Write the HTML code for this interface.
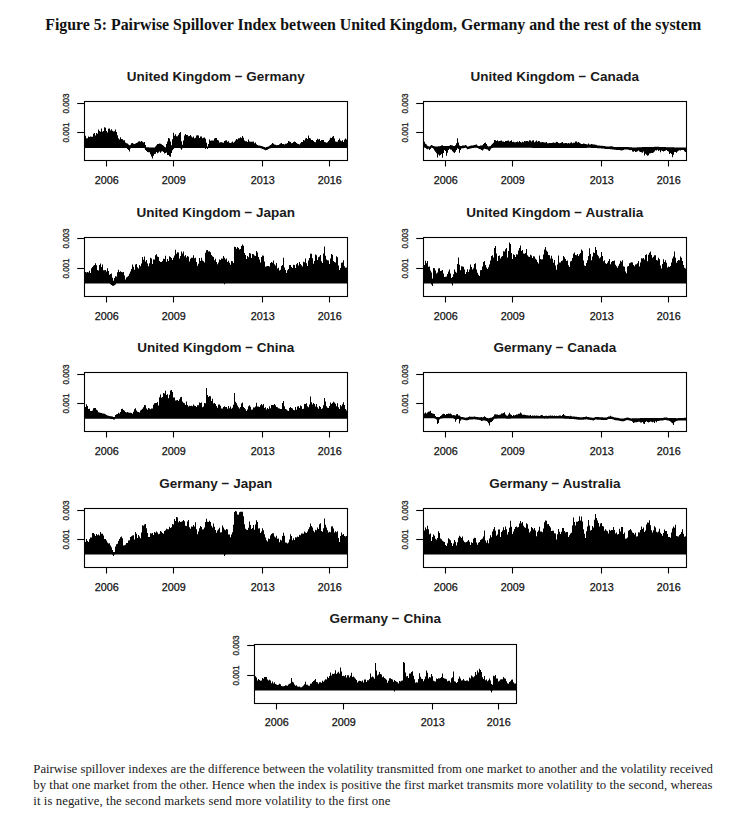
<!DOCTYPE html>
<html><head><meta charset="utf-8"><style>
html,body{margin:0;padding:0;background:#fff;}
body{width:747px;height:819px;overflow:hidden;position:relative;}
svg{position:absolute;left:0;top:0;}
.pt{font-family:"Liberation Sans",sans-serif;font-weight:bold;font-size:13.5px;fill:#1a1a1a;}
.xl{font-family:"Liberation Sans",sans-serif;font-size:10.8px;fill:#111;stroke:#111;stroke-width:0.25px;}
.yl{font-family:"Liberation Sans",sans-serif;font-size:9.4px;fill:#222;stroke:#222;stroke-width:0.3px;}
.bx{fill:none;stroke:#000;stroke-width:1.1;}
.tk{stroke:#000;stroke-width:1.1;}
.dt{fill:#000;}
.cap{position:absolute;left:34px;font-family:"Liberation Serif",serif;font-size:12.7px;color:#1a1a1a;white-space:nowrap;}
.ttl{position:absolute;left:45px;top:0;font-family:"Liberation Serif",serif;font-weight:bold;font-size:15.8px;color:#111;white-space:nowrap;}
</style></head><body>
<svg width="747" height="819" viewBox="0 0 747 819">
<text x="45.2" y="29.9" style="font-family:'Liberation Serif',serif;font-weight:bold;font-size:15.87px;fill:#111;">Figure 5: Pairwise Spillover Index between United Kingdom, Germany and the rest of the system</text>
<text x="215.8" y="81.3" class="pt" text-anchor="middle">United Kingdom − Germany</text>
<path d="M85,135.7 86,135.7 86,138.3 87,138.3 87,138.2 88,138.2 88,136.4 89,136.4 89,136.9 90,136.9 90,136.5 91,136.5 91,136.8 92,136.8 92,136.8 93,136.8 93,133.7 94,133.7 94,132.9 95,132.9 95,135.5 96,135.5 96,133.0 97,133.0 97,133.8 98,133.8 98,129.4 99,129.4 99,130.9 100,130.9 100,131.7 101,131.7 101,128.5 102,128.5 102,131.7 103,131.7 103,131.1 104,131.1 104,127.3 105,127.3 105,127.7 106,127.7 106,130.9 107,130.9 107,132.6 108,132.6 108,128.8 109,128.8 109,128.6 110,128.6 110,130.4 111,130.4 111,129.2 112,129.2 112,130.7 113,130.7 113,131.4 114,131.4 114,131.3 115,131.3 115,129.5 116,129.5 116,131.9 117,131.9 117,135.3 118,135.3 118,138.2 119,138.2 119,139.5 120,139.5 120,137.3 121,137.3 121,138.9 122,138.9 122,139.2 123,139.2 123,140.3 124,140.3 124,140.2 125,140.2 125,142.6 126,142.6 126,143.3 127,143.3 127,143.4 128,143.4 128,144.5 129,144.5 129,145.2 130,145.2 130,144.7 131,144.7 131,143.3 132,143.3 132,142.9 133,142.9 133,143.7 134,143.7 134,143.9 135,143.9 135,143.6 136,143.6 136,143.0 137,143.0 137,142.6 138,142.6 138,141.6 139,141.6 139,141.2 140,141.2 140,141.7 141,141.7 141,141.1 142,141.1 142,141.7 143,141.7 143,142.6 144,142.6 144,142.0 145,142.0 145,144.9 146,144.9 146,147.2 147,147.2 147,147.2 148,147.2 148,147.3 149,147.3 149,147.4 150,147.4 150,147.4 151,147.4 151,147.5 152,147.5 152,147.5 153,147.5 153,147.5 154,147.5 154,147.5 155,147.5 155,146.5 156,146.5 156,145.3 157,145.3 157,143.9 158,143.9 158,144.1 159,144.1 159,143.6 160,143.6 160,143.8 161,143.8 161,144.2 162,144.2 162,145.0 163,145.0 163,145.7 164,145.7 164,146.7 165,146.7 165,147.2 166,147.2 166,144.0 167,144.0 167,141.4 168,141.4 168,137.9 169,137.9 169,138.4 170,138.4 170,141.5 171,141.5 171,145.3 172,145.3 172,139.3 173,139.3 173,132.8 174,132.8 174,135.7 175,135.7 175,134.2 176,134.2 176,136.2 177,136.2 177,136.3 178,136.3 178,134.7 179,134.7 179,133.0 180,133.0 180,131.9 181,131.9 181,141.3 182,141.3 182,144.7 183,144.7 183,140.4 184,140.4 184,135.5 185,135.5 185,134.0 186,134.0 186,134.9 187,134.9 187,134.9 188,134.9 188,136.3 189,136.3 189,136.0 190,136.0 190,135.1 191,135.1 191,136.5 192,136.5 192,137.4 193,137.4 193,136.6 194,136.6 194,138.3 195,138.3 195,137.7 196,137.7 196,135.6 197,135.6 197,135.3 198,135.3 198,135.5 199,135.5 199,138.0 200,138.0 200,136.6 201,136.6 201,136.4 202,136.4 202,138.2 203,138.2 203,137.7 204,137.7 204,137.4 205,137.4 205,138.8 206,138.8 206,142.7 207,142.7 207,146.5 208,146.5 208,144.1 209,144.1 209,139.5 210,139.5 210,140.8 211,140.8 211,140.5 212,140.5 212,140.5 213,140.5 213,140.4 214,140.4 214,138.4 215,138.4 215,137.9 216,137.9 216,138.0 217,138.0 217,139.9 218,139.9 218,140.6 219,140.6 219,142.5 220,142.5 220,142.3 221,142.3 221,142.2 222,142.2 222,142.6 223,142.6 223,142.7 224,142.7 224,141.1 225,141.1 225,140.6 226,140.6 226,140.2 227,140.2 227,141.8 228,141.8 228,141.3 229,141.3 229,142.7 230,142.7 230,142.9 231,142.9 231,142.4 232,142.4 232,141.6 233,141.6 233,142.7 234,142.7 234,141.8 235,141.8 235,140.5 236,140.5 236,139.0 237,139.0 237,139.4 238,139.4 238,138.3 239,138.3 239,138.3 240,138.3 240,137.3 241,137.3 241,138.0 242,138.0 242,136.0 243,136.0 243,137.8 244,137.8 244,140.6 245,140.6 245,141.2 246,141.2 246,141.2 247,141.2 247,141.9 248,141.9 248,139.6 249,139.6 249,141.5 250,141.5 250,141.7 251,141.7 251,141.7 252,141.7 252,141.7 253,141.7 253,141.6 254,141.6 254,143.2 255,143.2 255,142.6 256,142.6 256,144.2 257,144.2 257,145.0 258,145.0 258,145.4 259,145.4 259,145.5 260,145.5 260,145.7 261,145.7 261,146.0 262,146.0 262,146.3 263,146.3 263,146.7 264,146.7 264,147.1 265,147.1 265,147.5 266,147.5 266,147.1 267,147.1 267,146.8 268,146.8 268,146.4 269,146.4 269,145.7 270,145.7 270,145.0 271,145.0 271,144.3 272,144.3 272,143.0 273,143.0 273,143.7 274,143.7 274,144.4 275,144.4 275,144.7 276,144.7 276,145.3 277,145.3 277,144.9 278,144.9 278,144.9 279,144.9 279,144.3 280,144.3 280,143.6 281,143.6 281,143.1 282,143.1 282,144.0 283,144.0 283,143.9 284,143.9 284,144.4 285,144.4 285,143.8 286,143.8 286,143.7 287,143.7 287,143.1 288,143.1 288,141.0 289,141.0 289,141.6 290,141.6 290,142.1 291,142.1 291,143.3 292,143.3 292,143.0 293,143.0 293,142.1 294,142.1 294,141.6 295,141.6 295,142.1 296,142.1 296,143.0 297,143.0 297,143.8 298,143.8 298,143.9 299,143.9 299,144.6 300,144.6 300,143.3 301,143.3 301,142.0 302,142.0 302,142.0 303,142.0 303,139.9 304,139.9 304,140.5 305,140.5 305,138.4 306,138.4 306,137.9 307,137.9 307,139.0 308,139.0 308,135.5 309,135.5 309,138.1 310,138.1 310,138.5 311,138.5 311,140.1 312,140.1 312,139.9 313,139.9 313,140.9 314,140.9 314,142.1 315,142.1 315,142.3 316,142.3 316,139.9 317,139.9 317,138.8 318,138.8 318,139.6 319,139.6 319,139.1 320,139.1 320,141.0 321,141.0 321,140.1 322,140.1 322,140.0 323,140.0 323,140.1 324,140.1 324,142.0 325,142.0 325,142.3 326,142.3 326,142.8 327,142.8 327,142.3 328,142.3 328,141.0 329,141.0 329,139.8 330,139.8 330,137.8 331,137.8 331,138.1 332,138.1 332,136.8 333,136.8 333,136.1 334,136.1 334,138.4 335,138.4 335,141.5 336,141.5 336,141.8 337,141.8 337,141.7 338,141.7 338,140.0 339,140.0 339,138.6 340,138.6 340,140.4 341,140.4 341,141.2 342,141.2 342,140.3 343,140.3 343,142.0 344,142.0 344,139.7 345,139.7 345,138.6 346,138.6 346,139.4 347,139.4 347,148.0 346,148.0 346,148.0 345,148.0 345,148.0 344,148.0 344,148.0 343,148.0 343,148.0 342,148.0 342,148.0 341,148.0 341,148.0 340,148.0 340,148.0 339,148.0 339,148.0 338,148.0 338,148.0 337,148.0 337,148.0 336,148.0 336,148.0 335,148.0 335,148.0 334,148.0 334,148.0 333,148.0 333,148.0 332,148.0 332,148.0 331,148.0 331,148.0 330,148.0 330,148.0 329,148.0 329,148.0 328,148.0 328,148.0 327,148.0 327,148.0 326,148.0 326,148.0 325,148.0 325,148.0 324,148.0 324,148.0 323,148.0 323,148.0 322,148.0 322,148.0 321,148.0 321,148.0 320,148.0 320,148.0 319,148.0 319,148.0 318,148.0 318,148.0 317,148.0 317,148.0 316,148.0 316,148.0 315,148.0 315,148.0 314,148.0 314,148.0 313,148.0 313,148.0 312,148.0 312,148.0 311,148.0 311,148.0 310,148.0 310,148.0 309,148.0 309,148.0 308,148.0 308,148.0 307,148.0 307,148.0 306,148.0 306,148.0 305,148.0 305,148.0 304,148.0 304,148.0 303,148.0 303,148.0 302,148.0 302,148.0 301,148.0 301,148.0 300,148.0 300,148.0 299,148.0 299,148.0 298,148.0 298,148.0 297,148.0 297,148.0 296,148.0 296,148.0 295,148.0 295,148.0 294,148.0 294,148.0 293,148.0 293,148.0 292,148.0 292,148.0 291,148.0 291,148.0 290,148.0 290,148.0 289,148.0 289,148.0 288,148.0 288,148.0 287,148.0 287,148.0 286,148.0 286,148.0 285,148.0 285,148.0 284,148.0 284,148.0 283,148.0 283,148.0 282,148.0 282,148.0 281,148.0 281,148.0 280,148.0 280,148.0 279,148.0 279,148.0 278,148.0 278,148.0 277,148.0 277,148.0 276,148.0 276,148.0 275,148.0 275,148.0 274,148.0 274,148.0 273,148.0 273,148.0 272,148.0 272,148.1 271,148.1 271,148.3 270,148.3 270,148.4 269,148.4 269,149.0 268,149.0 268,149.7 267,149.7 267,150.1 266,150.1 266,150.3 265,150.3 265,149.7 264,149.7 264,149.3 263,149.3 263,148.9 262,148.9 262,148.6 261,148.6 261,148.3 260,148.3 260,148.1 259,148.1 259,148.0 258,148.0 258,148.0 257,148.0 257,148.0 256,148.0 256,148.0 255,148.0 255,148.0 254,148.0 254,148.0 253,148.0 253,148.0 252,148.0 252,148.0 251,148.0 251,148.0 250,148.0 250,148.0 249,148.0 249,148.0 248,148.0 248,148.0 247,148.0 247,148.0 246,148.0 246,148.0 245,148.0 245,148.0 244,148.0 244,148.0 243,148.0 243,148.0 242,148.0 242,148.0 241,148.0 241,148.0 240,148.0 240,148.0 239,148.0 239,148.0 238,148.0 238,148.0 237,148.0 237,148.0 236,148.0 236,148.0 235,148.0 235,148.0 234,148.0 234,148.0 233,148.0 233,148.0 232,148.0 232,148.0 231,148.0 231,148.0 230,148.0 230,148.0 229,148.0 229,148.0 228,148.0 228,148.0 227,148.0 227,148.0 226,148.0 226,148.0 225,148.0 225,148.0 224,148.0 224,148.0 223,148.0 223,148.0 222,148.0 222,148.0 221,148.0 221,148.0 220,148.0 220,148.0 219,148.0 219,148.0 218,148.0 218,148.0 217,148.0 217,148.0 216,148.0 216,148.0 215,148.0 215,148.0 214,148.0 214,148.0 213,148.0 213,148.0 212,148.0 212,148.0 211,148.0 211,148.0 210,148.0 210,148.0 209,148.0 209,148.0 208,148.0 208,149.1 207,149.1 207,148.1 206,148.1 206,148.9 205,148.9 205,148.0 204,148.0 204,148.0 203,148.0 203,148.0 202,148.0 202,148.0 201,148.0 201,148.0 200,148.0 200,148.0 199,148.0 199,148.0 198,148.0 198,148.0 197,148.0 197,148.0 196,148.0 196,148.0 195,148.0 195,148.0 194,148.0 194,148.0 193,148.0 193,148.0 192,148.0 192,148.0 191,148.0 191,148.0 190,148.0 190,148.0 189,148.0 189,148.0 188,148.0 188,148.0 187,148.0 187,148.0 186,148.0 186,148.0 185,148.0 185,148.0 184,148.0 184,148.0 183,148.0 183,148.2 182,148.2 182,149.8 181,149.8 181,148.2 180,148.2 180,148.0 179,148.0 179,148.0 178,148.0 178,148.0 177,148.0 177,148.0 176,148.0 176,148.0 175,148.0 175,148.0 174,148.0 174,148.9 173,148.9 173,150.3 172,150.3 172,153.1 171,153.1 171,156.7 170,156.7 170,156.2 169,156.2 169,155.1 168,155.1 168,154.9 167,154.9 167,152.5 166,152.5 166,153.0 165,153.0 165,153.5 164,153.5 164,152.1 163,152.1 163,151.2 162,151.2 162,151.6 161,151.6 161,152.8 160,152.8 160,151.4 159,151.4 159,152.5 158,152.5 158,153.3 157,153.3 157,152.0 156,152.0 156,153.7 155,153.7 155,154.1 154,154.1 154,155.7 153,155.7 153,158.5 152,158.5 152,156.4 151,156.4 151,154.3 150,154.3 150,152.3 149,152.3 149,152.3 148,152.3 148,151.9 147,151.9 147,151.0 146,151.0 146,150.1 145,150.1 145,148.3 144,148.3 144,148.0 143,148.0 143,148.0 142,148.0 142,148.0 141,148.0 141,148.0 140,148.0 140,148.0 139,148.0 139,148.0 138,148.0 138,148.0 137,148.0 137,148.0 136,148.0 136,148.0 135,148.0 135,148.0 134,148.0 134,148.0 133,148.0 133,148.0 132,148.0 132,148.0 131,148.0 131,148.4 130,148.4 130,151.4 129,151.4 129,150.0 128,150.0 128,149.1 127,149.1 127,148.0 126,148.0 126,148.0 125,148.0 125,148.0 124,148.0 124,148.0 123,148.0 123,148.0 122,148.0 122,148.0 121,148.0 121,148.0 120,148.0 120,148.0 119,148.0 119,148.0 118,148.0 118,148.0 117,148.0 117,148.0 116,148.0 116,148.0 115,148.0 115,148.0 114,148.0 114,148.0 113,148.0 113,148.0 112,148.0 112,148.0 111,148.0 111,148.0 110,148.0 110,148.0 109,148.0 109,148.0 108,148.0 108,148.0 107,148.0 107,148.0 106,148.0 106,148.0 105,148.0 105,148.0 104,148.0 104,148.0 103,148.0 103,148.0 102,148.0 102,148.0 101,148.0 101,148.0 100,148.0 100,148.0 99,148.0 99,148.0 98,148.0 98,148.0 97,148.0 97,148.0 96,148.0 96,148.0 95,148.0 95,148.0 94,148.0 94,148.0 93,148.0 93,148.0 92,148.0 92,148.0 91,148.0 91,148.0 90,148.0 90,148.0 89,148.0 89,148.0 88,148.0 88,148.0 87,148.0 87,148.0 86,148.0 86,148.0 85,148.0Z" class="dt"/>
<rect x="84.5" y="101.5" width="263" height="59" class="bx"/>
<line x1="106.5" y1="160.5" x2="106.5" y2="166.5" class="tk"/>
<text x="106.7" y="184.0" class="xl" text-anchor="middle">2006</text>
<line x1="173.5" y1="160.5" x2="173.5" y2="166.5" class="tk"/>
<text x="173.7" y="184.0" class="xl" text-anchor="middle">2009</text>
<line x1="262.5" y1="160.5" x2="262.5" y2="166.5" class="tk"/>
<text x="262.7" y="184.0" class="xl" text-anchor="middle">2013</text>
<line x1="329.5" y1="160.5" x2="329.5" y2="166.5" class="tk"/>
<text x="329.7" y="184.0" class="xl" text-anchor="middle">2016</text>
<line x1="77.2" y1="103.5" x2="84.5" y2="103.5" class="tk"/>
<text transform="translate(69.2,103.5) rotate(-90) scale(0.86,1)" x="0" y="0" class="yl" text-anchor="middle">0.003</text>
<line x1="77.2" y1="132.5" x2="84.5" y2="132.5" class="tk"/>
<text transform="translate(69.2,132.5) rotate(-90) scale(0.86,1)" x="0" y="0" class="yl" text-anchor="middle">0.001</text>
<text x="554.8" y="81.3" class="pt" text-anchor="middle">United Kingdom − Canada</text>
<path d="M424,141.7 425,141.7 425,143.7 426,143.7 426,144.6 427,144.6 427,145.7 428,145.7 428,146.2 429,146.2 429,146.6 430,146.6 430,145.8 431,145.8 431,145.0 432,145.0 432,145.4 433,145.4 433,146.0 434,146.0 434,146.2 435,146.2 435,146.4 436,146.4 436,146.6 437,146.6 437,146.5 438,146.5 438,146.3 439,146.3 439,146.2 440,146.2 440,145.9 441,145.9 441,145.4 442,145.4 442,145.2 443,145.2 443,146.1 444,146.1 444,146.1 445,146.1 445,146.1 446,146.1 446,146.1 447,146.1 447,146.1 448,146.1 448,146.1 449,146.1 449,145.7 450,145.7 450,145.0 451,145.0 451,145.2 452,145.2 452,145.5 453,145.5 453,145.9 454,145.9 454,146.0 455,146.0 455,145.3 456,145.3 456,143.3 457,143.3 457,138.2 458,138.2 458,142.5 459,142.5 459,145.4 460,145.4 460,146.1 461,146.1 461,145.9 462,145.9 462,145.6 463,145.6 463,145.6 464,145.6 464,145.4 465,145.4 465,145.1 466,145.1 466,145.5 467,145.5 467,146.4 468,146.4 468,146.4 469,146.4 469,146.1 470,146.1 470,145.8 471,145.8 471,145.6 472,145.6 472,145.5 473,145.5 473,145.3 474,145.3 474,145.0 475,145.0 475,144.8 476,144.8 476,144.5 477,144.5 477,145.4 478,145.4 478,146.0 479,146.0 479,145.9 480,145.9 480,145.6 481,145.6 481,145.4 482,145.4 482,145.2 483,145.2 483,143.9 484,143.9 484,142.9 485,142.9 485,142.5 486,142.5 486,144.0 487,144.0 487,145.8 488,145.8 488,146.6 489,146.6 489,146.3 490,146.3 490,146.0 491,146.0 491,144.8 492,144.8 492,143.7 493,143.7 493,142.7 494,142.7 494,140.0 495,140.0 495,140.3 496,140.3 496,141.1 497,141.1 497,140.3 498,140.3 498,141.3 499,141.3 499,140.9 500,140.9 500,140.8 501,140.8 501,140.4 502,140.4 502,141.4 503,141.4 503,141.4 504,141.4 504,141.9 505,141.9 505,141.0 506,141.0 506,141.0 507,141.0 507,140.8 508,140.8 508,140.6 509,140.6 509,141.5 510,141.5 510,141.1 511,141.1 511,140.3 512,140.3 512,142.0 513,142.0 513,141.7 514,141.7 514,142.3 515,142.3 515,142.3 516,142.3 516,142.0 517,142.0 517,141.6 518,141.6 518,142.3 519,142.3 519,140.9 520,140.9 520,142.0 521,142.0 521,142.5 522,142.5 522,141.7 523,141.7 523,142.2 524,142.2 524,141.0 525,141.0 525,141.3 526,141.3 526,140.9 527,140.9 527,141.0 528,141.0 528,141.4 529,141.4 529,140.2 530,140.2 530,140.6 531,140.6 531,141.6 532,141.6 532,140.5 533,140.5 533,140.3 534,140.3 534,142.2 535,142.2 535,141.4 536,141.4 536,140.6 537,140.6 537,141.7 538,141.7 538,141.1 539,141.1 539,141.2 540,141.2 540,142.3 541,142.3 541,142.2 542,142.2 542,142.0 543,142.0 543,142.2 544,142.2 544,142.5 545,142.5 545,142.4 546,142.4 546,142.1 547,142.1 547,143.2 548,143.2 548,143.3 549,143.3 549,143.0 550,143.0 550,143.1 551,143.1 551,143.1 552,143.1 552,142.7 553,142.7 553,142.4 554,142.4 554,142.8 555,142.8 555,142.8 556,142.8 556,141.8 557,141.8 557,141.9 558,141.9 558,142.9 559,142.9 559,143.3 560,143.3 560,143.0 561,143.0 561,142.4 562,142.4 562,142.1 563,142.1 563,143.2 564,143.2 564,143.3 565,143.3 565,143.1 566,143.1 566,143.1 567,143.1 567,143.5 568,143.5 568,142.9 569,142.9 569,143.5 570,143.5 570,142.7 571,142.7 571,142.3 572,142.3 572,143.2 573,143.2 573,142.7 574,142.7 574,142.7 575,142.7 575,141.4 576,141.4 576,141.5 577,141.5 577,142.4 578,142.4 578,141.9 579,141.9 579,142.7 580,142.7 580,143.4 581,143.4 581,144.1 582,144.1 582,143.9 583,143.9 583,143.6 584,143.6 584,143.7 585,143.7 585,143.9 586,143.9 586,144.2 587,144.2 587,144.5 588,144.5 588,143.6 589,143.6 589,144.6 590,144.6 590,144.6 591,144.6 591,144.0 592,144.0 592,144.3 593,144.3 593,144.5 594,144.5 594,144.6 595,144.6 595,144.8 596,144.8 596,145.0 597,145.0 597,145.4 598,145.4 598,145.5 599,145.5 599,145.6 600,145.6 600,145.7 601,145.7 601,145.8 602,145.8 602,145.8 603,145.8 603,146.0 604,146.0 604,146.1 605,146.1 605,146.3 606,146.3 606,146.4 607,146.4 607,146.4 608,146.4 608,146.4 609,146.4 609,146.4 610,146.4 610,146.3 611,146.3 611,146.2 612,146.2 612,146.5 613,146.5 613,146.7 614,146.7 614,147.0 615,147.0 615,147.1 616,147.1 616,147.1 617,147.1 617,147.1 618,147.1 618,147.1 619,147.1 619,147.1 620,147.1 620,147.1 621,147.1 621,147.1 622,147.1 622,147.1 623,147.1 623,147.1 624,147.1 624,147.0 625,147.0 625,146.9 626,146.9 626,146.9 627,146.9 627,147.0 628,147.0 628,147.1 629,147.1 629,147.3 630,147.3 630,147.3 631,147.3 631,147.3 632,147.3 632,147.4 633,147.4 633,147.4 634,147.4 634,147.5 635,147.5 635,147.4 636,147.4 636,147.4 637,147.4 637,147.3 638,147.3 638,147.3 639,147.3 639,147.3 640,147.3 640,147.2 641,147.2 641,147.2 642,147.2 642,147.1 643,147.1 643,147.1 644,147.1 644,147.1 645,147.1 645,147.1 646,147.1 646,147.0 647,147.0 647,147.0 648,147.0 648,147.0 649,147.0 649,147.0 650,147.0 650,146.9 651,146.9 651,146.9 652,146.9 652,146.9 653,146.9 653,146.9 654,146.9 654,146.8 655,146.8 655,146.8 656,146.8 656,146.8 657,146.8 657,146.8 658,146.8 658,146.8 659,146.8 659,146.9 660,146.9 660,146.9 661,146.9 661,147.0 662,147.0 662,147.0 663,147.0 663,147.1 664,147.1 664,147.1 665,147.1 665,147.1 666,147.1 666,147.2 667,147.2 667,147.2 668,147.2 668,147.2 669,147.2 669,147.2 670,147.2 670,147.3 671,147.3 671,147.3 672,147.3 672,147.3 673,147.3 673,147.3 674,147.3 674,147.4 675,147.4 675,147.4 676,147.4 676,147.4 677,147.4 677,147.4 678,147.4 678,147.5 679,147.5 679,147.5 680,147.5 680,147.5 681,147.5 681,147.5 682,147.5 682,147.4 683,147.4 683,147.5 684,147.5 684,147.5 685,147.5 685,147.5 686,147.5 686,152.1 685,152.1 685,151.3 684,151.3 684,150.1 683,150.1 683,150.0 682,150.0 682,150.1 681,150.1 681,150.6 680,150.6 680,150.3 679,150.3 679,150.7 678,150.7 678,151.5 677,151.5 677,152.7 676,152.7 676,152.1 675,152.1 675,152.1 674,152.1 674,154.7 673,154.7 673,157.2 672,157.2 672,154.0 671,154.0 671,152.9 670,152.9 670,153.9 669,153.9 669,151.6 668,151.6 668,151.0 667,151.0 667,150.1 666,150.1 666,150.6 665,150.6 665,151.0 664,151.0 664,151.4 663,151.4 663,151.0 662,151.0 662,150.6 661,150.6 661,152.2 660,152.2 660,150.3 659,150.3 659,150.9 658,150.9 658,149.8 657,149.8 657,150.6 656,150.6 656,150.2 655,150.2 655,151.6 654,151.6 654,152.5 653,152.5 653,153.0 652,153.0 652,152.9 651,152.9 651,153.3 650,153.3 650,153.6 649,153.6 649,155.2 648,155.2 648,155.7 647,155.7 647,154.8 646,154.8 646,153.7 645,153.7 645,155.4 644,155.4 644,151.5 643,151.5 643,152.7 642,152.7 642,152.2 641,152.2 641,151.9 640,151.9 640,151.4 639,151.4 639,150.4 638,150.4 638,151.3 637,151.3 637,151.8 636,151.8 636,152.0 635,152.0 635,151.1 634,151.1 634,151.8 633,151.8 633,151.4 632,151.4 632,149.9 631,149.9 631,150.2 630,150.2 630,149.9 629,149.9 629,149.7 628,149.7 628,149.6 627,149.6 627,149.5 626,149.5 626,149.5 625,149.5 625,149.6 624,149.6 624,149.9 623,149.9 623,150.2 622,150.2 622,150.5 621,150.5 621,150.2 620,150.2 620,150.1 619,150.1 619,150.0 618,150.0 618,149.9 617,149.9 617,149.9 616,149.9 616,149.8 615,149.8 615,149.7 614,149.7 614,149.6 613,149.6 613,149.4 612,149.4 612,149.3 611,149.3 611,149.2 610,149.2 610,149.1 609,149.1 609,149.0 608,149.0 608,149.0 607,149.0 607,149.0 606,149.0 606,148.9 605,148.9 605,148.7 604,148.7 604,148.6 603,148.6 603,148.4 602,148.4 602,148.4 601,148.4 601,148.3 600,148.3 600,148.3 599,148.3 599,148.2 598,148.2 598,148.2 597,148.2 597,148.1 596,148.1 596,148.1 595,148.1 595,148.0 594,148.0 594,148.0 593,148.0 593,147.9 592,147.9 592,147.9 591,147.9 591,147.8 590,147.8 590,147.8 589,147.8 589,147.8 588,147.8 588,147.8 587,147.8 587,147.9 586,147.9 586,147.9 585,147.9 585,147.9 584,147.9 584,147.9 583,147.9 583,147.9 582,147.9 582,147.9 581,147.9 581,147.9 580,147.9 580,147.9 579,147.9 579,147.9 578,147.9 578,147.9 577,147.9 577,148.0 576,148.0 576,148.0 575,148.0 575,148.0 574,148.0 574,148.0 573,148.0 573,148.0 572,148.0 572,148.0 571,148.0 571,148.0 570,148.0 570,148.0 569,148.0 569,148.0 568,148.0 568,148.0 567,148.0 567,148.0 566,148.0 566,148.0 565,148.0 565,148.0 564,148.0 564,148.0 563,148.0 563,148.0 562,148.0 562,148.0 561,148.0 561,148.0 560,148.0 560,148.0 559,148.0 559,148.0 558,148.0 558,148.0 557,148.0 557,148.0 556,148.0 556,148.0 555,148.0 555,148.0 554,148.0 554,148.0 553,148.0 553,148.0 552,148.0 552,148.0 551,148.0 551,148.0 550,148.0 550,148.0 549,148.0 549,148.0 548,148.0 548,147.9 547,147.9 547,147.9 546,147.9 546,147.9 545,147.9 545,147.9 544,147.9 544,147.9 543,147.9 543,147.9 542,147.9 542,147.9 541,147.9 541,147.9 540,147.9 540,147.9 539,147.9 539,147.9 538,147.9 538,147.9 537,147.9 537,147.9 536,147.9 536,147.9 535,147.9 535,147.9 534,147.9 534,147.9 533,147.9 533,147.9 532,147.9 532,147.8 531,147.8 531,147.8 530,147.8 530,147.8 529,147.8 529,147.8 528,147.8 528,147.8 527,147.8 527,147.8 526,147.8 526,147.8 525,147.8 525,147.8 524,147.8 524,147.8 523,147.8 523,147.8 522,147.8 522,147.8 521,147.8 521,147.8 520,147.8 520,147.8 519,147.8 519,147.8 518,147.8 518,147.8 517,147.8 517,147.8 516,147.8 516,147.7 515,147.7 515,147.7 514,147.7 514,147.7 513,147.7 513,147.7 512,147.7 512,147.7 511,147.7 511,147.7 510,147.7 510,147.7 509,147.7 509,147.7 508,147.7 508,147.7 507,147.7 507,147.7 506,147.7 506,147.7 505,147.7 505,147.7 504,147.7 504,147.7 503,147.7 503,147.7 502,147.7 502,147.7 501,147.7 501,147.7 500,147.7 500,147.7 499,147.7 499,147.7 498,147.7 498,147.7 497,147.7 497,147.7 496,147.7 496,147.7 495,147.7 495,147.7 494,147.7 494,147.7 493,147.7 493,148.0 492,148.0 492,148.3 491,148.3 491,149.5 490,149.5 490,151.1 489,151.1 489,150.5 488,150.5 488,149.5 487,149.5 487,149.2 486,149.2 486,149.0 485,149.0 485,148.8 484,148.8 484,149.5 483,149.5 483,150.6 482,150.6 482,149.9 481,149.9 481,149.2 480,149.2 480,148.9 479,148.9 479,148.6 478,148.6 478,148.1 477,148.1 477,147.7 476,147.7 476,147.7 475,147.7 475,147.8 474,147.8 474,147.9 473,147.9 473,148.1 472,148.1 472,148.2 471,148.2 471,148.4 470,148.4 470,148.7 469,148.7 469,149.0 468,149.0 468,149.3 467,149.3 467,148.2 466,148.2 466,147.7 465,147.7 465,148.0 464,148.0 464,148.2 463,148.2 463,148.2 462,148.2 462,148.5 461,148.5 461,150.0 460,150.0 460,152.8 459,152.8 459,149.0 458,149.0 458,148.3 457,148.3 457,150.1 456,150.1 456,151.8 455,151.8 455,152.9 454,152.9 454,152.3 453,152.3 453,151.2 452,151.2 452,149.8 451,149.8 451,149.6 450,149.6 450,148.8 449,148.8 449,150.0 448,150.0 448,152.8 447,152.8 447,155.7 446,155.7 446,151.1 445,151.1 445,149.9 444,149.9 444,153.1 443,153.1 443,157.7 442,157.7 442,153.9 441,153.9 441,155.0 440,155.0 440,155.8 439,155.8 439,154.4 438,154.4 438,157.4 437,157.4 437,153.3 436,153.3 436,151.8 435,151.8 435,150.4 434,150.4 434,148.7 433,148.7 433,148.0 432,148.0 432,147.7 431,147.7 431,149.0 430,149.0 430,149.9 429,149.9 429,148.8 428,148.8 428,149.3 427,149.3 427,148.7 426,148.7 426,147.9 425,147.9 425,147.5 424,147.5Z" class="dt"/>
<rect x="423.5" y="101.5" width="263" height="59" class="bx"/>
<line x1="445.5" y1="160.5" x2="445.5" y2="166.5" class="tk"/>
<text x="445.7" y="184.0" class="xl" text-anchor="middle">2006</text>
<line x1="512.5" y1="160.5" x2="512.5" y2="166.5" class="tk"/>
<text x="512.7" y="184.0" class="xl" text-anchor="middle">2009</text>
<line x1="601.5" y1="160.5" x2="601.5" y2="166.5" class="tk"/>
<text x="601.7" y="184.0" class="xl" text-anchor="middle">2013</text>
<line x1="668.5" y1="160.5" x2="668.5" y2="166.5" class="tk"/>
<text x="668.7" y="184.0" class="xl" text-anchor="middle">2016</text>
<line x1="416.2" y1="103.5" x2="423.5" y2="103.5" class="tk"/>
<text transform="translate(408.2,103.5) rotate(-90) scale(0.86,1)" x="0" y="0" class="yl" text-anchor="middle">0.003</text>
<line x1="416.2" y1="132.5" x2="423.5" y2="132.5" class="tk"/>
<text transform="translate(408.2,132.5) rotate(-90) scale(0.86,1)" x="0" y="0" class="yl" text-anchor="middle">0.001</text>
<text x="215.8" y="217.3" class="pt" text-anchor="middle">United Kingdom − Japan</text>
<path d="M85,271.9 86,271.9 86,272.4 87,272.4 87,271.9 88,271.9 88,272.6 89,272.6 89,270.8 90,270.8 90,273.1 91,273.1 91,268.2 92,268.2 92,267.0 93,267.0 93,265.7 94,265.7 94,265.1 95,265.1 95,263.2 96,263.2 96,265.3 97,265.3 97,270.0 98,270.0 98,270.6 99,270.6 99,265.1 100,265.1 100,263.5 101,263.5 101,266.9 102,266.9 102,264.4 103,264.4 103,270.2 104,270.2 104,270.3 105,270.3 105,270.0 106,270.0 106,271.6 107,271.6 107,268.2 108,268.2 108,271.0 109,271.0 109,274.7 110,274.7 110,274.0 111,274.0 111,273.5 112,273.5 112,277.7 113,277.7 113,280.7 114,280.7 114,278.1 115,278.1 115,276.3 116,276.3 116,276.6 117,276.6 117,272.3 118,272.3 118,269.8 119,269.8 119,271.9 120,271.9 120,271.2 121,271.2 121,272.1 122,272.1 122,272.3 123,272.3 123,271.9 124,271.9 124,275.5 125,275.5 125,279.5 126,279.5 126,277.6 127,277.6 127,276.8 128,276.8 128,275.8 129,275.8 129,273.8 130,273.8 130,271.4 131,271.4 131,268.9 132,268.9 132,264.5 133,264.5 133,266.8 134,266.8 134,269.8 135,269.8 135,264.6 136,264.6 136,263.9 137,263.9 137,267.3 138,267.3 138,268.5 139,268.5 139,265.1 140,265.1 140,266.2 141,266.2 141,263.4 142,263.4 142,256.9 143,256.9 143,259.7 144,259.7 144,256.5 145,256.5 145,261.5 146,261.5 146,260.1 147,260.1 147,263.6 148,263.6 148,266.3 149,266.3 149,263.2 150,263.2 150,257.7 151,257.7 151,258.4 152,258.4 152,264.1 153,264.1 153,259.5 154,259.5 154,259.5 155,259.5 155,255.2 156,255.2 156,254.2 157,254.2 157,256.4 158,256.4 158,256.9 159,256.9 159,261.1 160,261.1 160,261.9 161,261.9 161,261.9 162,261.9 162,261.0 163,261.0 163,258.7 164,258.7 164,258.9 165,258.9 165,255.7 166,255.7 166,261.8 167,261.8 167,259.0 168,259.0 168,261.1 169,261.1 169,256.3 170,256.3 170,257.1 171,257.1 171,257.9 172,257.9 172,259.9 173,259.9 173,257.8 174,257.8 174,255.4 175,255.4 175,249.7 176,249.7 176,253.8 177,253.8 177,252.2 178,252.2 178,252.5 179,252.5 179,258.5 180,258.5 180,256.0 181,256.0 181,251.6 182,251.6 182,253.4 183,253.4 183,251.4 184,251.4 184,256.2 185,256.2 185,255.1 186,255.1 186,257.5 187,257.5 187,255.9 188,255.9 188,256.7 189,256.7 189,261.4 190,261.4 190,258.8 191,258.8 191,257.8 192,257.8 192,257.8 193,257.8 193,255.2 194,255.2 194,258.3 195,258.3 195,257.7 196,257.7 196,262.0 197,262.0 197,265.8 198,265.8 198,263.8 199,263.8 199,257.9 200,257.9 200,261.0 201,261.0 201,257.8 202,257.8 202,260.4 203,260.4 203,261.2 204,261.2 204,262.6 205,262.6 205,252.8 206,252.8 206,250.3 207,250.3 207,250.1 208,250.1 208,251.6 209,251.6 209,251.2 210,251.2 210,252.3 211,252.3 211,255.1 212,255.1 212,256.2 213,256.2 213,257.0 214,257.0 214,260.3 215,260.3 215,258.7 216,258.7 216,261.9 217,261.9 217,264.2 218,264.2 218,262.4 219,262.4 219,259.5 220,259.5 220,260.1 221,260.1 221,258.5 222,258.5 222,258.7 223,258.7 223,256.1 224,256.1 224,257.8 225,257.8 225,259.6 226,259.6 226,258.6 227,258.6 227,262.1 228,262.1 228,260.8 229,260.8 229,262.8 230,262.8 230,264.8 231,264.8 231,261.1 232,261.1 232,261.2 233,261.2 233,263.0 234,263.0 234,246.8 235,246.8 235,247.1 236,247.1 236,248.7 237,248.7 237,246.9 238,246.9 238,248.1 239,248.1 239,249.6 240,249.6 240,249.0 241,249.0 241,245.9 242,245.9 242,244.5 243,244.5 243,245.8 244,245.8 244,253.0 245,253.0 245,254.9 246,254.9 246,259.0 247,259.0 247,256.1 248,256.1 248,257.2 249,257.2 249,253.0 250,253.0 250,253.6 251,253.6 251,258.0 252,258.0 252,253.9 253,253.9 253,254.3 254,254.3 254,255.5 255,255.5 255,255.9 256,255.9 256,251.1 257,251.1 257,252.6 258,252.6 258,257.0 259,257.0 259,259.6 260,259.6 260,262.4 261,262.4 261,256.9 262,256.9 262,255.4 263,255.4 263,255.7 264,255.7 264,261.4 265,261.4 265,266.8 266,266.8 266,266.3 267,266.3 267,266.0 268,266.0 268,265.9 269,265.9 269,266.4 270,266.4 270,263.0 271,263.0 271,262.1 272,262.1 272,262.8 273,262.8 273,260.4 274,260.4 274,264.2 275,264.2 275,265.5 276,265.5 276,263.0 277,263.0 277,268.4 278,268.4 278,267.8 279,267.8 279,270.5 280,270.5 280,269.8 281,269.8 281,266.0 282,266.0 282,265.0 283,265.0 283,257.8 284,257.8 284,267.5 285,267.5 285,269.9 286,269.9 286,273.1 287,273.1 287,270.2 288,270.2 288,268.9 289,268.9 289,265.1 290,265.1 290,265.0 291,265.0 291,266.9 292,266.9 292,267.9 293,267.9 293,264.8 294,264.8 294,265.0 295,265.0 295,268.1 296,268.1 296,264.2 297,264.2 297,263.0 298,263.0 298,265.5 299,265.5 299,261.9 300,261.9 300,264.0 301,264.0 301,265.2 302,265.2 302,266.4 303,266.4 303,261.8 304,261.8 304,262.3 305,262.3 305,258.6 306,258.6 306,263.3 307,263.3 307,265.9 308,265.9 308,260.4 309,260.4 309,258.1 310,258.1 310,253.7 311,253.7 311,253.7 312,253.7 312,258.3 313,258.3 313,263.8 314,263.8 314,260.9 315,260.9 315,254.5 316,254.5 316,255.3 317,255.3 317,259.9 318,259.9 318,257.3 319,257.3 319,256.4 320,256.4 320,255.1 321,255.1 321,261.3 322,261.3 322,263.0 323,263.0 323,253.6 324,253.6 324,246.5 325,246.5 325,255.7 326,255.7 326,259.4 327,259.4 327,260.3 328,260.3 328,260.5 329,260.5 329,264.0 330,264.0 330,258.4 331,258.4 331,254.1 332,254.1 332,254.8 333,254.8 333,261.1 334,261.1 334,262.0 335,262.0 335,262.4 336,262.4 336,256.2 337,256.2 337,257.2 338,257.2 338,265.4 339,265.4 339,270.1 340,270.1 340,267.9 341,267.9 341,262.8 342,262.8 342,262.4 343,262.4 343,260.2 344,260.2 344,266.3 345,266.3 345,267.7 346,267.7 346,267.4 347,267.4 347,283.5 346,283.5 346,283.5 345,283.5 345,283.5 344,283.5 344,283.5 343,283.5 343,283.5 342,283.5 342,283.5 341,283.5 341,283.5 340,283.5 340,283.5 339,283.5 339,283.5 338,283.5 338,283.5 337,283.5 337,283.5 336,283.5 336,283.5 335,283.5 335,283.5 334,283.5 334,283.5 333,283.5 333,283.5 332,283.5 332,283.5 331,283.5 331,283.5 330,283.5 330,283.5 329,283.5 329,283.5 328,283.5 328,283.5 327,283.5 327,283.5 326,283.5 326,283.5 325,283.5 325,283.5 324,283.5 324,283.5 323,283.5 323,283.5 322,283.5 322,283.5 321,283.5 321,283.5 320,283.5 320,283.5 319,283.5 319,283.5 318,283.5 318,283.5 317,283.5 317,283.5 316,283.5 316,283.5 315,283.5 315,283.5 314,283.5 314,283.5 313,283.5 313,283.5 312,283.5 312,283.5 311,283.5 311,283.5 310,283.5 310,283.5 309,283.5 309,283.5 308,283.5 308,283.5 307,283.5 307,283.5 306,283.5 306,283.5 305,283.5 305,283.5 304,283.5 304,283.5 303,283.5 303,283.5 302,283.5 302,283.5 301,283.5 301,283.5 300,283.5 300,283.5 299,283.5 299,283.5 298,283.5 298,283.5 297,283.5 297,283.5 296,283.5 296,283.5 295,283.5 295,283.5 294,283.5 294,283.5 293,283.5 293,283.5 292,283.5 292,283.5 291,283.5 291,283.5 290,283.5 290,283.5 289,283.5 289,283.5 288,283.5 288,283.5 287,283.5 287,283.5 286,283.5 286,283.5 285,283.5 285,283.5 284,283.5 284,283.5 283,283.5 283,283.5 282,283.5 282,283.5 281,283.5 281,283.5 280,283.5 280,283.5 279,283.5 279,283.5 278,283.5 278,283.5 277,283.5 277,283.5 276,283.5 276,283.5 275,283.5 275,283.5 274,283.5 274,283.5 273,283.5 273,283.5 272,283.5 272,283.5 271,283.5 271,283.5 270,283.5 270,283.5 269,283.5 269,283.5 268,283.5 268,283.5 267,283.5 267,283.5 266,283.5 266,283.5 265,283.5 265,283.5 264,283.5 264,283.5 263,283.5 263,283.5 262,283.5 262,283.5 261,283.5 261,283.5 260,283.5 260,283.5 259,283.5 259,283.5 258,283.5 258,283.5 257,283.5 257,283.5 256,283.5 256,283.5 255,283.5 255,283.5 254,283.5 254,283.5 253,283.5 253,283.5 252,283.5 252,283.5 251,283.5 251,283.5 250,283.5 250,283.5 249,283.5 249,283.5 248,283.5 248,283.5 247,283.5 247,283.5 246,283.5 246,283.5 245,283.5 245,283.5 244,283.5 244,283.5 243,283.5 243,283.5 242,283.5 242,283.5 241,283.5 241,283.5 240,283.5 240,283.5 239,283.5 239,283.5 238,283.5 238,283.5 237,283.5 237,283.5 236,283.5 236,283.5 235,283.5 235,283.5 234,283.5 234,283.5 233,283.5 233,283.5 232,283.5 232,283.5 231,283.5 231,283.5 230,283.5 230,283.5 229,283.5 229,283.5 228,283.5 228,283.5 227,283.5 227,283.5 226,283.5 226,283.6 225,283.6 225,284.2 224,284.2 224,283.5 223,283.5 223,283.5 222,283.5 222,283.5 221,283.5 221,283.5 220,283.5 220,283.5 219,283.5 219,283.5 218,283.5 218,283.5 217,283.5 217,283.5 216,283.5 216,283.5 215,283.5 215,283.5 214,283.5 214,283.5 213,283.5 213,283.5 212,283.5 212,283.5 211,283.5 211,283.5 210,283.5 210,283.5 209,283.5 209,283.5 208,283.5 208,283.5 207,283.5 207,283.5 206,283.5 206,283.5 205,283.5 205,283.5 204,283.5 204,283.5 203,283.5 203,283.5 202,283.5 202,283.5 201,283.5 201,283.5 200,283.5 200,283.5 199,283.5 199,283.5 198,283.5 198,283.5 197,283.5 197,283.5 196,283.5 196,283.5 195,283.5 195,283.5 194,283.5 194,283.5 193,283.5 193,283.5 192,283.5 192,283.5 191,283.5 191,283.5 190,283.5 190,283.5 189,283.5 189,283.5 188,283.5 188,283.5 187,283.5 187,283.5 186,283.5 186,283.5 185,283.5 185,283.5 184,283.5 184,283.5 183,283.5 183,283.5 182,283.5 182,283.5 181,283.5 181,283.5 180,283.5 180,283.5 179,283.5 179,283.5 178,283.5 178,283.5 177,283.5 177,283.5 176,283.5 176,283.5 175,283.5 175,283.5 174,283.5 174,283.5 173,283.5 173,283.5 172,283.5 172,283.5 171,283.5 171,283.5 170,283.5 170,283.5 169,283.5 169,283.5 168,283.5 168,283.5 167,283.5 167,283.5 166,283.5 166,283.5 165,283.5 165,283.5 164,283.5 164,283.5 163,283.5 163,283.5 162,283.5 162,283.5 161,283.5 161,283.5 160,283.5 160,283.5 159,283.5 159,283.5 158,283.5 158,283.5 157,283.5 157,283.5 156,283.5 156,283.5 155,283.5 155,283.5 154,283.5 154,283.5 153,283.5 153,283.5 152,283.5 152,283.5 151,283.5 151,283.5 150,283.5 150,283.5 149,283.5 149,283.5 148,283.5 148,283.5 147,283.5 147,283.5 146,283.5 146,283.5 145,283.5 145,283.5 144,283.5 144,283.5 143,283.5 143,283.5 142,283.5 142,283.5 141,283.5 141,283.5 140,283.5 140,283.5 139,283.5 139,283.5 138,283.5 138,283.5 137,283.5 137,283.5 136,283.5 136,283.5 135,283.5 135,283.5 134,283.5 134,283.5 133,283.5 133,283.5 132,283.5 132,283.5 131,283.5 131,283.5 130,283.5 130,283.5 129,283.5 129,283.5 128,283.5 128,283.5 127,283.5 127,283.5 126,283.5 126,283.5 125,283.5 125,283.5 124,283.5 124,283.5 123,283.5 123,283.5 122,283.5 122,283.5 121,283.5 121,283.5 120,283.5 120,283.5 119,283.5 119,283.5 118,283.5 118,283.5 117,283.5 117,283.5 116,283.5 116,284.4 115,284.4 115,285.2 114,285.2 114,285.7 113,285.7 113,285.8 112,285.8 112,285.0 111,285.0 111,284.2 110,284.2 110,283.5 109,283.5 109,283.5 108,283.5 108,283.5 107,283.5 107,283.5 106,283.5 106,283.5 105,283.5 105,283.5 104,283.5 104,283.5 103,283.5 103,283.5 102,283.5 102,283.5 101,283.5 101,283.5 100,283.5 100,283.5 99,283.5 99,283.5 98,283.5 98,283.5 97,283.5 97,283.5 96,283.5 96,283.5 95,283.5 95,283.5 94,283.5 94,283.5 93,283.5 93,283.5 92,283.5 92,283.5 91,283.5 91,283.5 90,283.5 90,283.5 89,283.5 89,283.5 88,283.5 88,283.5 87,283.5 87,283.5 86,283.5 86,283.5 85,283.5Z" class="dt"/>
<rect x="84.5" y="237.5" width="263" height="59" class="bx"/>
<line x1="106.5" y1="296.5" x2="106.5" y2="302.5" class="tk"/>
<text x="106.7" y="320.0" class="xl" text-anchor="middle">2006</text>
<line x1="173.5" y1="296.5" x2="173.5" y2="302.5" class="tk"/>
<text x="173.7" y="320.0" class="xl" text-anchor="middle">2009</text>
<line x1="262.5" y1="296.5" x2="262.5" y2="302.5" class="tk"/>
<text x="262.7" y="320.0" class="xl" text-anchor="middle">2013</text>
<line x1="329.5" y1="296.5" x2="329.5" y2="302.5" class="tk"/>
<text x="329.7" y="320.0" class="xl" text-anchor="middle">2016</text>
<line x1="77.2" y1="238.5" x2="84.5" y2="238.5" class="tk"/>
<text transform="translate(69.2,238.5) rotate(-90) scale(0.86,1)" x="0" y="0" class="yl" text-anchor="middle">0.003</text>
<line x1="77.2" y1="268.5" x2="84.5" y2="268.5" class="tk"/>
<text transform="translate(69.2,268.5) rotate(-90) scale(0.86,1)" x="0" y="0" class="yl" text-anchor="middle">0.001</text>
<text x="554.8" y="217.3" class="pt" text-anchor="middle">United Kingdom − Australia</text>
<path d="M424,265.0 425,265.0 425,260.7 426,260.7 426,263.3 427,263.3 427,261.1 428,261.1 428,266.7 429,266.7 429,266.5 430,266.5 430,270.5 431,270.5 431,272.4 432,272.4 432,278.6 433,278.6 433,267.9 434,267.9 434,268.2 435,268.2 435,270.6 436,270.6 436,273.6 437,273.6 437,272.5 438,272.5 438,268.6 439,268.6 439,268.3 440,268.3 440,271.0 441,271.0 441,270.7 442,270.7 442,269.9 443,269.9 443,273.5 444,273.5 444,277.0 445,277.0 445,276.8 446,276.8 446,276.4 447,276.4 447,273.9 448,273.9 448,271.6 449,271.6 449,269.6 450,269.6 450,273.6 451,273.6 451,278.1 452,278.1 452,277.0 453,277.0 453,274.3 454,274.3 454,269.5 455,269.5 455,271.7 456,271.7 456,272.8 457,272.8 457,264.1 458,264.1 458,257.4 459,257.4 459,264.8 460,264.8 460,270.3 461,270.3 461,266.3 462,266.3 462,266.5 463,266.5 463,266.8 464,266.8 464,269.4 465,269.4 465,273.9 466,273.9 466,272.1 467,272.1 467,269.3 468,269.3 468,272.1 469,272.1 469,269.4 470,269.4 470,264.6 471,264.6 471,267.0 472,267.0 472,269.4 473,269.4 473,268.3 474,268.3 474,263.9 475,263.9 475,263.2 476,263.2 476,269.5 477,269.5 477,272.8 478,272.8 478,274.7 479,274.7 479,276.0 480,276.0 480,270.2 481,270.2 481,270.0 482,270.0 482,266.5 483,266.5 483,261.9 484,261.9 484,260.9 485,260.9 485,264.9 486,264.9 486,267.6 487,267.6 487,268.9 488,268.9 488,267.3 489,267.3 489,264.4 490,264.4 490,260.4 491,260.4 491,256.1 492,256.1 492,255.2 493,255.2 493,257.5 494,257.5 494,248.0 495,248.0 495,246.1 496,246.1 496,253.5 497,253.5 497,260.9 498,260.9 498,256.1 499,256.1 499,255.6 500,255.6 500,258.6 501,258.6 501,256.7 502,256.7 502,256.0 503,256.0 503,251.2 504,251.2 504,251.5 505,251.5 505,249.3 506,249.3 506,248.0 507,248.0 507,257.6 508,257.6 508,251.1 509,251.1 509,242.4 510,242.4 510,244.0 511,244.0 511,253.1 512,253.1 512,259.0 513,259.0 513,254.3 514,254.3 514,255.1 515,255.1 515,257.0 516,257.0 516,254.3 517,254.3 517,254.4 518,254.4 518,250.6 519,250.6 519,247.9 520,247.9 520,245.5 521,245.5 521,251.0 522,251.0 522,250.0 523,250.0 523,253.5 524,253.5 524,253.8 525,253.8 525,252.9 526,252.9 526,249.1 527,249.1 527,255.3 528,255.3 528,256.5 529,256.5 529,256.9 530,256.9 530,254.8 531,254.8 531,255.5 532,255.5 532,258.0 533,258.0 533,256.2 534,256.2 534,256.5 535,256.5 535,258.7 536,258.7 536,259.8 537,259.8 537,261.9 538,261.9 538,263.5 539,263.5 539,255.6 540,255.6 540,259.1 541,259.1 541,259.6 542,259.6 542,259.2 543,259.2 543,254.4 544,254.4 544,249.4 545,249.4 545,247.0 546,247.0 546,250.5 547,250.5 547,251.8 548,251.8 548,255.0 549,255.0 549,255.2 550,255.2 550,258.4 551,258.4 551,255.7 552,255.7 552,258.7 553,258.7 553,262.8 554,262.8 554,260.0 555,260.0 555,265.6 556,265.6 556,269.8 557,269.8 557,264.4 558,264.4 558,255.5 559,255.5 559,262.4 560,262.4 560,262.4 561,262.4 561,261.0 562,261.0 562,260.4 563,260.4 563,255.9 564,255.9 564,257.2 565,257.2 565,259.0 566,259.0 566,260.9 567,260.9 567,260.4 568,260.4 568,265.3 569,265.3 569,267.0 570,267.0 570,261.4 571,261.4 571,260.7 572,260.7 572,258.0 573,258.0 573,253.8 574,253.8 574,252.6 575,252.6 575,255.1 576,255.1 576,255.3 577,255.3 577,254.0 578,254.0 578,255.9 579,255.9 579,254.3 580,254.3 580,252.9 581,252.9 581,249.6 582,249.6 582,250.8 583,250.8 583,260.6 584,260.6 584,265.6 585,265.6 585,265.9 586,265.9 586,262.9 587,262.9 587,260.2 588,260.2 588,255.9 589,255.9 589,248.2 590,248.2 590,253.9 591,253.9 591,260.3 592,260.3 592,256.5 593,256.5 593,252.4 594,252.4 594,252.9 595,252.9 595,247.1 596,247.1 596,249.9 597,249.9 597,254.7 598,254.7 598,256.2 599,256.2 599,258.2 600,258.2 600,257.2 601,257.2 601,252.0 602,252.0 602,256.0 603,256.0 603,261.2 604,261.2 604,260.3 605,260.3 605,263.3 606,263.3 606,264.0 607,264.0 607,262.8 608,262.8 608,261.1 609,261.1 609,259.0 610,259.0 610,264.3 611,264.3 611,262.0 612,262.0 612,261.0 613,261.0 613,261.0 614,261.0 614,260.5 615,260.5 615,264.7 616,264.7 616,266.3 617,266.3 617,267.7 618,267.7 618,265.7 619,265.7 619,263.7 620,263.7 620,260.8 621,260.8 621,261.7 622,261.7 622,260.3 623,260.3 623,266.3 624,266.3 624,266.8 625,266.8 625,271.4 626,271.4 626,273.3 627,273.3 627,266.5 628,266.5 628,266.0 629,266.0 629,263.2 630,263.2 630,262.7 631,262.7 631,262.2 632,262.2 632,262.4 633,262.4 633,265.0 634,265.0 634,266.2 635,266.2 635,264.6 636,264.6 636,264.2 637,264.2 637,263.2 638,263.2 638,261.1 639,261.1 639,266.5 640,266.5 640,262.6 641,262.6 641,258.2 642,258.2 642,258.4 643,258.4 643,258.0 644,258.0 644,259.6 645,259.6 645,255.0 646,255.0 646,254.2 647,254.2 647,261.2 648,261.2 648,254.8 649,254.8 649,252.8 650,252.8 650,251.4 651,251.4 651,255.1 652,255.1 652,257.7 653,257.7 653,256.7 654,256.7 654,255.2 655,255.2 655,255.2 656,255.2 656,259.9 657,259.9 657,260.6 658,260.6 658,257.8 659,257.8 659,259.2 660,259.2 660,265.4 661,265.4 661,268.4 662,268.4 662,264.0 663,264.0 663,259.2 664,259.2 664,262.1 665,262.1 665,260.2 666,260.2 666,262.8 667,262.8 667,267.4 668,267.4 668,266.5 669,266.5 669,267.1 670,267.1 670,266.1 671,266.1 671,262.5 672,262.5 672,258.4 673,258.4 673,256.6 674,256.6 674,251.4 675,251.4 675,257.8 676,257.8 676,262.7 677,262.7 677,261.1 678,261.1 678,260.0 679,260.0 679,260.3 680,260.3 680,256.6 681,256.6 681,257.8 682,257.8 682,261.0 683,261.0 683,265.1 684,265.1 684,267.8 685,267.8 685,268.4 686,268.4 686,283.5 685,283.5 685,283.5 684,283.5 684,283.5 683,283.5 683,283.5 682,283.5 682,283.5 681,283.5 681,283.5 680,283.5 680,283.5 679,283.5 679,283.5 678,283.5 678,283.5 677,283.5 677,283.5 676,283.5 676,283.5 675,283.5 675,283.5 674,283.5 674,283.5 673,283.5 673,283.5 672,283.5 672,283.5 671,283.5 671,283.5 670,283.5 670,283.5 669,283.5 669,283.5 668,283.5 668,283.5 667,283.5 667,283.5 666,283.5 666,283.5 665,283.5 665,283.5 664,283.5 664,283.5 663,283.5 663,283.5 662,283.5 662,283.5 661,283.5 661,283.5 660,283.5 660,283.5 659,283.5 659,283.5 658,283.5 658,283.5 657,283.5 657,283.5 656,283.5 656,283.5 655,283.5 655,283.5 654,283.5 654,283.5 653,283.5 653,283.5 652,283.5 652,283.5 651,283.5 651,283.5 650,283.5 650,283.5 649,283.5 649,283.5 648,283.5 648,283.5 647,283.5 647,283.5 646,283.5 646,283.5 645,283.5 645,283.5 644,283.5 644,283.5 643,283.5 643,283.5 642,283.5 642,283.5 641,283.5 641,283.5 640,283.5 640,283.5 639,283.5 639,283.5 638,283.5 638,283.5 637,283.5 637,283.5 636,283.5 636,283.5 635,283.5 635,283.5 634,283.5 634,283.5 633,283.5 633,283.5 632,283.5 632,283.5 631,283.5 631,283.5 630,283.5 630,283.5 629,283.5 629,283.5 628,283.5 628,283.5 627,283.5 627,283.5 626,283.5 626,283.5 625,283.5 625,283.5 624,283.5 624,283.5 623,283.5 623,283.5 622,283.5 622,283.5 621,283.5 621,283.5 620,283.5 620,283.5 619,283.5 619,283.5 618,283.5 618,283.5 617,283.5 617,283.5 616,283.5 616,283.5 615,283.5 615,283.5 614,283.5 614,283.5 613,283.5 613,283.5 612,283.5 612,283.5 611,283.5 611,283.5 610,283.5 610,283.5 609,283.5 609,283.5 608,283.5 608,283.5 607,283.5 607,283.5 606,283.5 606,283.5 605,283.5 605,283.5 604,283.5 604,283.5 603,283.5 603,283.5 602,283.5 602,283.5 601,283.5 601,283.5 600,283.5 600,283.5 599,283.5 599,283.5 598,283.5 598,283.5 597,283.5 597,283.5 596,283.5 596,283.5 595,283.5 595,283.5 594,283.5 594,283.5 593,283.5 593,283.5 592,283.5 592,283.5 591,283.5 591,283.5 590,283.5 590,283.5 589,283.5 589,283.5 588,283.5 588,283.5 587,283.5 587,283.5 586,283.5 586,283.5 585,283.5 585,283.5 584,283.5 584,283.5 583,283.5 583,283.5 582,283.5 582,283.5 581,283.5 581,283.5 580,283.5 580,283.5 579,283.5 579,283.5 578,283.5 578,283.5 577,283.5 577,283.5 576,283.5 576,283.5 575,283.5 575,283.5 574,283.5 574,283.5 573,283.5 573,283.5 572,283.5 572,283.5 571,283.5 571,283.5 570,283.5 570,283.5 569,283.5 569,283.5 568,283.5 568,283.5 567,283.5 567,283.5 566,283.5 566,283.5 565,283.5 565,283.5 564,283.5 564,283.5 563,283.5 563,283.5 562,283.5 562,283.5 561,283.5 561,283.5 560,283.5 560,283.5 559,283.5 559,283.5 558,283.5 558,283.5 557,283.5 557,283.5 556,283.5 556,283.5 555,283.5 555,283.5 554,283.5 554,283.5 553,283.5 553,283.5 552,283.5 552,283.5 551,283.5 551,283.5 550,283.5 550,283.5 549,283.5 549,283.5 548,283.5 548,283.5 547,283.5 547,283.5 546,283.5 546,283.5 545,283.5 545,283.5 544,283.5 544,283.5 543,283.5 543,283.5 542,283.5 542,283.5 541,283.5 541,283.5 540,283.5 540,283.5 539,283.5 539,283.5 538,283.5 538,283.5 537,283.5 537,283.5 536,283.5 536,283.5 535,283.5 535,283.5 534,283.5 534,283.5 533,283.5 533,283.5 532,283.5 532,283.5 531,283.5 531,283.5 530,283.5 530,283.5 529,283.5 529,283.5 528,283.5 528,283.5 527,283.5 527,283.5 526,283.5 526,283.5 525,283.5 525,283.5 524,283.5 524,283.5 523,283.5 523,283.5 522,283.5 522,283.5 521,283.5 521,283.5 520,283.5 520,283.5 519,283.5 519,283.5 518,283.5 518,283.5 517,283.5 517,283.5 516,283.5 516,283.5 515,283.5 515,283.5 514,283.5 514,283.5 513,283.5 513,283.5 512,283.5 512,283.5 511,283.5 511,283.5 510,283.5 510,283.5 509,283.5 509,283.5 508,283.5 508,283.5 507,283.5 507,283.5 506,283.5 506,283.5 505,283.5 505,283.5 504,283.5 504,283.5 503,283.5 503,283.5 502,283.5 502,283.5 501,283.5 501,283.5 500,283.5 500,283.5 499,283.5 499,283.5 498,283.5 498,283.5 497,283.5 497,283.5 496,283.5 496,283.5 495,283.5 495,283.5 494,283.5 494,283.5 493,283.5 493,283.5 492,283.5 492,283.5 491,283.5 491,283.5 490,283.5 490,283.5 489,283.5 489,283.5 488,283.5 488,283.5 487,283.5 487,283.5 486,283.5 486,283.5 485,283.5 485,283.5 484,283.5 484,283.5 483,283.5 483,283.5 482,283.5 482,283.5 481,283.5 481,283.5 480,283.5 480,283.5 479,283.5 479,283.5 478,283.5 478,283.5 477,283.5 477,283.5 476,283.5 476,283.5 475,283.5 475,283.5 474,283.5 474,283.5 473,283.5 473,283.5 472,283.5 472,283.5 471,283.5 471,283.5 470,283.5 470,283.5 469,283.5 469,283.5 468,283.5 468,283.5 467,283.5 467,283.5 466,283.5 466,283.5 465,283.5 465,283.5 464,283.5 464,283.5 463,283.5 463,283.5 462,283.5 462,283.5 461,283.5 461,283.5 460,283.5 460,283.5 459,283.5 459,283.5 458,283.5 458,283.5 457,283.5 457,283.5 456,283.5 456,283.5 455,283.5 455,283.5 454,283.5 454,283.5 453,283.5 453,285.6 452,285.6 452,283.7 451,283.7 451,283.5 450,283.5 450,283.5 449,283.5 449,283.5 448,283.5 448,283.5 447,283.5 447,283.5 446,283.5 446,283.5 445,283.5 445,283.5 444,283.5 444,283.5 443,283.5 443,283.5 442,283.5 442,283.5 441,283.5 441,283.5 440,283.5 440,283.5 439,283.5 439,283.5 438,283.5 438,283.5 437,283.5 437,283.5 436,283.5 436,283.5 435,283.5 435,283.5 434,283.5 434,283.5 433,283.5 433,285.9 432,285.9 432,284.6 431,284.6 431,283.5 430,283.5 430,283.5 429,283.5 429,283.5 428,283.5 428,283.5 427,283.5 427,283.5 426,283.5 426,283.5 425,283.5 425,283.5 424,283.5Z" class="dt"/>
<rect x="423.5" y="237.5" width="263" height="59" class="bx"/>
<line x1="445.5" y1="296.5" x2="445.5" y2="302.5" class="tk"/>
<text x="445.7" y="320.0" class="xl" text-anchor="middle">2006</text>
<line x1="512.5" y1="296.5" x2="512.5" y2="302.5" class="tk"/>
<text x="512.7" y="320.0" class="xl" text-anchor="middle">2009</text>
<line x1="601.5" y1="296.5" x2="601.5" y2="302.5" class="tk"/>
<text x="601.7" y="320.0" class="xl" text-anchor="middle">2013</text>
<line x1="668.5" y1="296.5" x2="668.5" y2="302.5" class="tk"/>
<text x="668.7" y="320.0" class="xl" text-anchor="middle">2016</text>
<line x1="416.2" y1="238.5" x2="423.5" y2="238.5" class="tk"/>
<text transform="translate(408.2,238.5) rotate(-90) scale(0.86,1)" x="0" y="0" class="yl" text-anchor="middle">0.003</text>
<line x1="416.2" y1="268.5" x2="423.5" y2="268.5" class="tk"/>
<text transform="translate(408.2,268.5) rotate(-90) scale(0.86,1)" x="0" y="0" class="yl" text-anchor="middle">0.001</text>
<text x="215.8" y="352.3" class="pt" text-anchor="middle">United Kingdom − China</text>
<path d="M85,407.0 86,407.0 86,404.3 87,404.3 87,406.0 88,406.0 88,409.0 89,409.0 89,408.8 90,408.8 90,411.1 91,411.1 91,411.0 92,411.0 92,410.6 93,410.6 93,408.2 94,408.2 94,408.0 95,408.0 95,407.9 96,407.9 96,409.8 97,409.8 97,410.4 98,410.4 98,412.3 99,412.3 99,412.5 100,412.5 100,412.7 101,412.7 101,413.1 102,413.1 102,413.4 103,413.4 103,413.4 104,413.4 104,413.8 105,413.8 105,414.3 106,414.3 106,415.1 107,415.1 107,415.4 108,415.4 108,415.8 109,415.8 109,416.0 110,416.0 110,416.3 111,416.3 111,416.3 112,416.3 112,416.5 113,416.5 113,417.0 114,417.0 114,417.0 115,417.0 115,415.0 116,415.0 116,414.3 117,414.3 117,414.1 118,414.1 118,412.7 119,412.7 119,413.4 120,413.4 120,411.9 121,411.9 121,409.1 122,409.1 122,408.8 123,408.8 123,410.0 124,410.0 124,410.7 125,410.7 125,411.9 126,411.9 126,412.6 127,412.6 127,412.1 128,412.1 128,412.4 129,412.4 129,412.7 130,412.7 130,412.7 131,412.7 131,412.9 132,412.9 132,413.7 133,413.7 133,411.8 134,411.8 134,409.3 135,409.3 135,408.3 136,408.3 136,410.5 137,410.5 137,411.8 138,411.8 138,412.0 139,412.0 139,412.4 140,412.4 140,410.5 141,410.5 141,409.8 142,409.8 142,408.8 143,408.8 143,407.3 144,407.3 144,405.0 145,405.0 145,405.3 146,405.3 146,408.5 147,408.5 147,409.7 148,409.7 148,408.0 149,408.0 149,408.6 150,408.6 150,409.3 151,409.3 151,408.4 152,408.4 152,408.5 153,408.5 153,404.7 154,404.7 154,403.3 155,403.3 155,403.0 156,403.0 156,403.1 157,403.1 157,402.1 158,402.1 158,405.6 159,405.6 159,397.3 160,397.3 160,394.5 161,394.5 161,397.7 162,397.7 162,397.0 163,397.0 163,393.0 164,393.0 164,393.4 165,393.4 165,390.8 166,390.8 166,395.1 167,395.1 167,394.3 168,394.3 168,398.2 169,398.2 169,394.8 170,394.8 170,390.6 171,390.6 171,390.1 172,390.1 172,392.1 173,392.1 173,397.6 174,397.6 174,397.4 175,397.4 175,400.4 176,400.4 176,400.2 177,400.2 177,399.9 178,399.9 178,400.9 179,400.9 179,399.3 180,399.3 180,397.2 181,397.2 181,396.9 182,396.9 182,401.6 183,401.6 183,402.7 184,402.7 184,403.3 185,403.3 185,404.9 186,404.9 186,401.5 187,401.5 187,405.0 188,405.0 188,406.5 189,406.5 189,405.7 190,405.7 190,406.0 191,406.0 191,405.7 192,405.7 192,406.3 193,406.3 193,404.6 194,404.6 194,405.7 195,405.7 195,406.1 196,406.1 196,407.1 197,407.1 197,405.3 198,405.3 198,405.3 199,405.3 199,402.6 200,402.6 200,402.9 201,402.9 201,402.5 202,402.5 202,407.2 203,407.2 203,406.5 204,406.5 204,403.0 205,403.0 205,403.2 206,403.2 206,388.0 207,388.0 207,394.9 208,394.9 208,397.1 209,397.1 209,396.0 210,396.0 210,396.2 211,396.2 211,401.1 212,401.1 212,398.7 213,398.7 213,403.4 214,403.4 214,403.0 215,403.0 215,404.1 216,404.1 216,406.0 217,406.0 217,407.7 218,407.7 218,404.4 219,404.4 219,404.4 220,404.4 220,405.8 221,405.8 221,408.6 222,408.6 222,408.4 223,408.4 223,406.9 224,406.9 224,406.2 225,406.2 225,407.1 226,407.1 226,406.9 227,406.9 227,408.8 228,408.8 228,406.1 229,406.1 229,408.3 230,408.3 230,406.5 231,406.5 231,408.8 232,408.8 232,407.8 233,407.8 233,404.7 234,404.7 234,393.0 235,393.0 235,401.7 236,401.7 236,403.2 237,403.2 237,405.5 238,405.5 238,407.2 239,407.2 239,408.6 240,408.6 240,407.0 241,407.0 241,403.5 242,403.5 242,402.6 243,402.6 243,407.0 244,407.0 244,408.0 245,408.0 245,409.2 246,409.2 246,411.0 247,411.0 247,409.6 248,409.6 248,406.3 249,406.3 249,405.3 250,405.3 250,406.7 251,406.7 251,409.8 252,409.8 252,409.4 253,409.4 253,407.4 254,407.4 254,407.6 255,407.6 255,406.5 256,406.5 256,402.7 257,402.7 257,406.6 258,406.6 258,406.4 259,406.4 259,406.9 260,406.9 260,405.3 261,405.3 261,404.0 262,404.0 262,405.2 263,405.2 263,404.1 264,404.1 264,407.9 265,407.9 265,407.2 266,407.2 266,409.4 267,409.4 267,408.1 268,408.1 268,409.1 269,409.1 269,406.2 270,406.2 270,408.2 271,408.2 271,405.1 272,405.1 272,404.9 273,404.9 273,404.9 274,404.9 274,404.1 275,404.1 275,405.3 276,405.3 276,407.1 277,407.1 277,407.2 278,407.2 278,408.3 279,408.3 279,408.6 280,408.6 280,408.9 281,408.9 281,409.1 282,409.1 282,402.9 283,402.9 283,401.0 284,401.0 284,406.2 285,406.2 285,408.9 286,408.9 286,409.4 287,409.4 287,410.5 288,410.5 288,410.9 289,410.9 289,408.1 290,408.1 290,407.1 291,407.1 291,408.1 292,408.1 292,408.6 293,408.6 293,410.1 294,410.1 294,410.2 295,410.2 295,407.1 296,407.1 296,409.7 297,409.7 297,406.4 298,406.4 298,406.3 299,406.3 299,407.9 300,407.9 300,405.4 301,405.4 301,406.3 302,406.3 302,408.9 303,408.9 303,408.7 304,408.7 304,403.9 305,403.9 305,404.1 306,404.1 306,403.2 307,403.2 307,406.3 308,406.3 308,407.3 309,407.3 309,404.5 310,404.5 310,396.4 311,396.4 311,402.2 312,402.2 312,404.4 313,404.4 313,403.1 314,403.1 314,403.9 315,403.9 315,406.4 316,406.4 316,404.1 317,404.1 317,407.2 318,407.2 318,408.7 319,408.7 319,405.9 320,405.9 320,406.9 321,406.9 321,408.9 322,408.9 322,408.2 323,408.2 323,405.3 324,405.3 324,398.1 325,398.1 325,401.4 326,401.4 326,406.3 327,406.3 327,407.8 328,407.8 328,407.9 329,407.9 329,405.9 330,405.9 330,402.4 331,402.4 331,403.9 332,403.9 332,402.9 333,402.9 333,401.8 334,401.8 334,402.5 335,402.5 335,403.8 336,403.8 336,406.2 337,406.2 337,403.3 338,403.3 338,407.3 339,407.3 339,408.9 340,408.9 340,405.0 341,405.0 341,406.3 342,406.3 342,404.3 343,404.3 343,402.3 344,402.3 344,404.9 345,404.9 345,408.9 346,408.9 346,410.6 347,410.6 347,418.8 346,418.8 346,418.8 345,418.8 345,418.8 344,418.8 344,418.8 343,418.8 343,418.8 342,418.8 342,418.8 341,418.8 341,418.8 340,418.8 340,418.8 339,418.8 339,418.8 338,418.8 338,418.8 337,418.8 337,418.8 336,418.8 336,418.8 335,418.8 335,418.8 334,418.8 334,418.8 333,418.8 333,418.8 332,418.8 332,418.8 331,418.8 331,418.8 330,418.8 330,418.8 329,418.8 329,418.8 328,418.8 328,418.8 327,418.8 327,418.8 326,418.8 326,418.8 325,418.8 325,418.8 324,418.8 324,418.8 323,418.8 323,418.8 322,418.8 322,418.8 321,418.8 321,418.8 320,418.8 320,418.8 319,418.8 319,418.8 318,418.8 318,418.8 317,418.8 317,418.8 316,418.8 316,418.8 315,418.8 315,418.8 314,418.8 314,418.8 313,418.8 313,418.8 312,418.8 312,418.8 311,418.8 311,418.8 310,418.8 310,418.8 309,418.8 309,418.8 308,418.8 308,418.8 307,418.8 307,418.8 306,418.8 306,418.8 305,418.8 305,418.8 304,418.8 304,418.8 303,418.8 303,418.8 302,418.8 302,418.8 301,418.8 301,418.8 300,418.8 300,418.8 299,418.8 299,418.8 298,418.8 298,418.8 297,418.8 297,418.8 296,418.8 296,418.8 295,418.8 295,418.8 294,418.8 294,418.8 293,418.8 293,418.8 292,418.8 292,418.8 291,418.8 291,418.8 290,418.8 290,418.8 289,418.8 289,418.8 288,418.8 288,418.8 287,418.8 287,418.8 286,418.8 286,418.8 285,418.8 285,418.8 284,418.8 284,418.8 283,418.8 283,418.8 282,418.8 282,418.8 281,418.8 281,418.8 280,418.8 280,418.8 279,418.8 279,418.8 278,418.8 278,418.8 277,418.8 277,418.8 276,418.8 276,418.8 275,418.8 275,418.8 274,418.8 274,418.8 273,418.8 273,418.8 272,418.8 272,418.8 271,418.8 271,418.8 270,418.8 270,418.8 269,418.8 269,418.8 268,418.8 268,418.8 267,418.8 267,418.8 266,418.8 266,418.8 265,418.8 265,418.8 264,418.8 264,418.8 263,418.8 263,418.8 262,418.8 262,418.8 261,418.8 261,418.8 260,418.8 260,418.8 259,418.8 259,418.8 258,418.8 258,418.8 257,418.8 257,418.8 256,418.8 256,418.8 255,418.8 255,418.8 254,418.8 254,418.8 253,418.8 253,418.8 252,418.8 252,418.8 251,418.8 251,418.8 250,418.8 250,418.8 249,418.8 249,418.8 248,418.8 248,418.8 247,418.8 247,418.8 246,418.8 246,418.8 245,418.8 245,418.8 244,418.8 244,418.8 243,418.8 243,418.8 242,418.8 242,418.8 241,418.8 241,418.8 240,418.8 240,418.8 239,418.8 239,418.8 238,418.8 238,418.8 237,418.8 237,418.8 236,418.8 236,418.8 235,418.8 235,418.8 234,418.8 234,418.8 233,418.8 233,418.8 232,418.8 232,418.8 231,418.8 231,418.8 230,418.8 230,418.8 229,418.8 229,418.8 228,418.8 228,418.8 227,418.8 227,418.8 226,418.8 226,418.8 225,418.8 225,418.8 224,418.8 224,418.8 223,418.8 223,418.8 222,418.8 222,418.8 221,418.8 221,418.8 220,418.8 220,418.8 219,418.8 219,418.8 218,418.8 218,418.8 217,418.8 217,418.8 216,418.8 216,418.8 215,418.8 215,418.8 214,418.8 214,418.8 213,418.8 213,418.8 212,418.8 212,418.8 211,418.8 211,418.8 210,418.8 210,418.8 209,418.8 209,418.8 208,418.8 208,418.8 207,418.8 207,418.8 206,418.8 206,418.8 205,418.8 205,418.8 204,418.8 204,418.8 203,418.8 203,418.8 202,418.8 202,418.8 201,418.8 201,418.8 200,418.8 200,418.8 199,418.8 199,418.8 198,418.8 198,418.8 197,418.8 197,418.8 196,418.8 196,418.8 195,418.8 195,418.8 194,418.8 194,418.8 193,418.8 193,418.8 192,418.8 192,418.8 191,418.8 191,418.8 190,418.8 190,418.8 189,418.8 189,418.8 188,418.8 188,418.8 187,418.8 187,418.8 186,418.8 186,418.8 185,418.8 185,418.8 184,418.8 184,418.8 183,418.8 183,418.8 182,418.8 182,418.8 181,418.8 181,418.8 180,418.8 180,418.8 179,418.8 179,418.8 178,418.8 178,418.8 177,418.8 177,418.8 176,418.8 176,418.8 175,418.8 175,418.8 174,418.8 174,418.8 173,418.8 173,418.8 172,418.8 172,418.8 171,418.8 171,418.8 170,418.8 170,418.8 169,418.8 169,418.8 168,418.8 168,418.8 167,418.8 167,418.8 166,418.8 166,418.8 165,418.8 165,418.8 164,418.8 164,418.8 163,418.8 163,418.8 162,418.8 162,418.8 161,418.8 161,418.8 160,418.8 160,418.8 159,418.8 159,418.8 158,418.8 158,418.8 157,418.8 157,418.8 156,418.8 156,418.8 155,418.8 155,418.8 154,418.8 154,418.8 153,418.8 153,418.8 152,418.8 152,418.8 151,418.8 151,418.8 150,418.8 150,418.8 149,418.8 149,418.8 148,418.8 148,418.8 147,418.8 147,418.8 146,418.8 146,418.8 145,418.8 145,418.8 144,418.8 144,418.8 143,418.8 143,418.8 142,418.8 142,418.8 141,418.8 141,418.8 140,418.8 140,418.8 139,418.8 139,418.8 138,418.8 138,418.8 137,418.8 137,418.8 136,418.8 136,418.8 135,418.8 135,418.8 134,418.8 134,418.8 133,418.8 133,418.8 132,418.8 132,418.8 131,418.8 131,418.8 130,418.8 130,418.8 129,418.8 129,418.8 128,418.8 128,418.8 127,418.8 127,418.8 126,418.8 126,418.8 125,418.8 125,418.8 124,418.8 124,418.8 123,418.8 123,418.8 122,418.8 122,418.8 121,418.8 121,418.8 120,418.8 120,418.8 119,418.8 119,418.8 118,418.8 118,418.8 117,418.8 117,418.8 116,418.8 116,418.8 115,418.8 115,419.6 114,419.6 114,419.6 113,419.6 113,419.1 112,419.1 112,418.9 111,418.9 111,418.9 110,418.9 110,418.8 109,418.8 109,418.8 108,418.8 108,418.8 107,418.8 107,418.8 106,418.8 106,418.8 105,418.8 105,418.8 104,418.8 104,418.8 103,418.8 103,418.8 102,418.8 102,418.8 101,418.8 101,418.8 100,418.8 100,418.8 99,418.8 99,418.8 98,418.8 98,418.8 97,418.8 97,418.8 96,418.8 96,418.8 95,418.8 95,418.8 94,418.8 94,418.8 93,418.8 93,418.8 92,418.8 92,418.8 91,418.8 91,418.8 90,418.8 90,418.8 89,418.8 89,418.8 88,418.8 88,418.8 87,418.8 87,418.8 86,418.8 86,418.8 85,418.8Z" class="dt"/>
<rect x="84.5" y="372.5" width="263" height="59" class="bx"/>
<line x1="106.5" y1="431.5" x2="106.5" y2="437.5" class="tk"/>
<text x="106.7" y="455.0" class="xl" text-anchor="middle">2006</text>
<line x1="173.5" y1="431.5" x2="173.5" y2="437.5" class="tk"/>
<text x="173.7" y="455.0" class="xl" text-anchor="middle">2009</text>
<line x1="262.5" y1="431.5" x2="262.5" y2="437.5" class="tk"/>
<text x="262.7" y="455.0" class="xl" text-anchor="middle">2013</text>
<line x1="329.5" y1="431.5" x2="329.5" y2="437.5" class="tk"/>
<text x="329.7" y="455.0" class="xl" text-anchor="middle">2016</text>
<line x1="77.2" y1="374.5" x2="84.5" y2="374.5" class="tk"/>
<text transform="translate(69.2,374.5) rotate(-90) scale(0.86,1)" x="0" y="0" class="yl" text-anchor="middle">0.003</text>
<line x1="77.2" y1="403.5" x2="84.5" y2="403.5" class="tk"/>
<text transform="translate(69.2,403.5) rotate(-90) scale(0.86,1)" x="0" y="0" class="yl" text-anchor="middle">0.001</text>
<text x="554.8" y="352.3" class="pt" text-anchor="middle">Germany − Canada</text>
<path d="M424,413.5 425,413.5 425,412.6 426,412.6 426,413.6 427,413.6 427,412.5 428,412.5 428,411.7 429,411.7 429,411.4 430,411.4 430,410.7 431,410.7 431,412.9 432,412.9 432,413.6 433,413.6 433,413.8 434,413.8 434,414.0 435,414.0 435,416.0 436,416.0 436,416.9 437,416.9 437,417.1 438,417.1 438,417.1 439,417.1 439,417.0 440,417.0 440,416.0 441,416.0 441,415.3 442,415.3 442,414.3 443,414.3 443,413.8 444,413.8 444,413.9 445,413.9 445,414.9 446,414.9 446,414.1 447,414.1 447,413.9 448,413.9 448,413.4 449,413.4 449,413.8 450,413.8 450,413.6 451,413.6 451,414.2 452,414.2 452,415.2 453,415.2 453,415.1 454,415.1 454,415.3 455,415.3 455,415.6 456,415.6 456,414.3 457,414.3 457,413.9 458,413.9 458,415.4 459,415.4 459,415.6 460,415.6 460,416.4 461,416.4 461,417.0 462,417.0 462,417.0 463,417.0 463,417.2 464,417.2 464,417.4 465,417.4 465,417.7 466,417.7 466,417.6 467,417.6 467,417.4 468,417.4 468,416.9 469,416.9 469,416.6 470,416.6 470,416.8 471,416.8 471,416.8 472,416.8 472,416.8 473,416.8 473,416.7 474,416.7 474,416.6 475,416.6 475,416.8 476,416.8 476,417.0 477,417.0 477,417.1 478,417.1 478,417.2 479,417.2 479,417.3 480,417.3 480,417.3 481,417.3 481,417.1 482,417.1 482,417.6 483,417.6 483,417.1 484,417.1 484,416.2 485,416.2 485,417.0 486,417.0 486,417.7 487,417.7 487,418.0 488,418.0 488,418.2 489,418.2 489,418.0 490,418.0 490,417.8 491,417.8 491,417.7 492,417.7 492,417.0 493,417.0 493,416.2 494,416.2 494,414.6 495,414.6 495,414.2 496,414.2 496,414.5 497,414.5 497,414.6 498,414.6 498,414.9 499,414.9 499,414.8 500,414.8 500,414.4 501,414.4 501,413.6 502,413.6 502,413.5 503,413.5 503,412.9 504,412.9 504,412.3 505,412.3 505,414.6 506,414.6 506,415.4 507,415.4 507,415.7 508,415.7 508,414.5 509,414.5 509,412.7 510,412.7 510,414.3 511,414.3 511,414.9 512,414.9 512,415.9 513,415.9 513,415.0 514,415.0 514,415.5 515,415.5 515,414.9 516,414.9 516,414.4 517,414.4 517,414.6 518,414.6 518,413.8 519,413.8 519,413.8 520,413.8 520,412.6 521,412.6 521,413.5 522,413.5 522,414.7 523,414.7 523,414.8 524,414.8 524,414.8 525,414.8 525,414.9 526,414.9 526,415.2 527,415.2 527,415.3 528,415.3 528,415.4 529,415.4 529,415.6 530,415.6 530,415.1 531,415.1 531,415.9 532,415.9 532,415.4 533,415.4 533,415.8 534,415.8 534,415.4 535,415.4 535,415.8 536,415.8 536,415.5 537,415.5 537,415.7 538,415.7 538,415.7 539,415.7 539,415.9 540,415.9 540,415.4 541,415.4 541,414.9 542,414.9 542,415.3 543,415.3 543,415.9 544,415.9 544,416.1 545,416.1 545,415.8 546,415.8 546,415.8 547,415.8 547,416.1 548,416.1 548,415.7 549,415.7 549,415.7 550,415.7 550,415.4 551,415.4 551,415.8 552,415.8 552,415.5 553,415.5 553,415.9 554,415.9 554,415.6 555,415.6 555,415.9 556,415.9 556,415.8 557,415.8 557,415.9 558,415.9 558,415.7 559,415.7 559,415.4 560,415.4 560,415.6 561,415.6 561,416.0 562,416.0 562,415.1 563,415.1 563,414.1 564,414.1 564,415.2 565,415.2 565,415.8 566,415.8 566,416.1 567,416.1 567,416.0 568,416.0 568,416.0 569,416.0 569,416.3 570,416.3 570,415.8 571,415.8 571,416.2 572,416.2 572,416.4 573,416.4 573,416.5 574,416.5 574,416.6 575,416.6 575,416.7 576,416.7 576,416.8 577,416.8 577,417.0 578,417.0 578,417.1 579,417.1 579,417.2 580,417.2 580,417.2 581,417.2 581,417.2 582,417.2 582,417.2 583,417.2 583,417.1 584,417.1 584,416.9 585,416.9 585,416.8 586,416.8 586,416.6 587,416.6 587,416.9 588,416.9 588,417.1 589,417.1 589,417.2 590,417.2 590,417.4 591,417.4 591,417.5 592,417.5 592,417.7 593,417.7 593,417.8 594,417.8 594,417.5 595,417.5 595,417.0 596,417.0 596,417.0 597,417.0 597,417.1 598,417.1 598,417.1 599,417.1 599,417.2 600,417.2 600,417.2 601,417.2 601,417.3 602,417.3 602,417.3 603,417.3 603,417.4 604,417.4 604,417.4 605,417.4 605,417.5 606,417.5 606,417.5 607,417.5 607,417.0 608,417.0 608,416.5 609,416.5 609,416.4 610,416.4 610,415.8 611,415.8 611,416.4 612,416.4 612,416.7 613,416.7 613,417.0 614,417.0 614,417.4 615,417.4 615,417.6 616,417.6 616,417.7 617,417.7 617,417.8 618,417.8 618,418.0 619,418.0 619,418.2 620,418.2 620,418.4 621,418.4 621,418.6 622,418.6 622,418.6 623,418.6 623,418.6 624,418.6 624,418.3 625,418.3 625,418.0 626,418.0 626,417.7 627,417.7 627,417.5 628,417.5 628,417.7 629,417.7 629,418.0 630,418.0 630,418.2 631,418.2 631,418.4 632,418.4 632,418.2 633,418.2 633,418.2 634,418.2 634,418.2 635,418.2 635,418.2 636,418.2 636,418.2 637,418.2 637,418.2 638,418.2 638,418.2 639,418.2 639,418.2 640,418.2 640,418.1 641,418.1 641,418.1 642,418.1 642,418.1 643,418.1 643,418.1 644,418.1 644,418.1 645,418.1 645,418.1 646,418.1 646,418.1 647,418.1 647,418.1 648,418.1 648,418.1 649,418.1 649,418.1 650,418.1 650,418.1 651,418.1 651,418.1 652,418.1 652,418.1 653,418.1 653,418.1 654,418.1 654,418.1 655,418.1 655,418.0 656,418.0 656,418.0 657,418.0 657,418.0 658,418.0 658,418.0 659,418.0 659,418.0 660,418.0 660,418.0 661,418.0 661,417.9 662,417.9 662,417.9 663,417.9 663,417.7 664,417.7 664,417.5 665,417.5 665,417.4 666,417.4 666,417.6 667,417.6 667,417.8 668,417.8 668,418.0 669,418.0 669,418.1 670,418.1 670,418.1 671,418.1 671,418.1 672,418.1 672,418.1 673,418.1 673,418.1 674,418.1 674,418.1 675,418.1 675,418.1 676,418.1 676,418.2 677,418.2 677,418.2 678,418.2 678,418.0 679,418.0 679,418.0 680,418.0 680,418.0 681,418.0 681,418.0 682,418.0 682,418.0 683,418.0 683,417.9 684,417.9 684,417.8 685,417.8 685,417.8 686,417.8 686,420.4 685,420.4 685,420.4 684,420.4 684,420.5 683,420.5 683,420.6 682,420.6 682,420.6 681,420.6 681,420.6 680,420.6 680,420.6 679,420.6 679,420.6 678,420.6 678,420.8 677,420.8 677,421.1 676,421.1 676,421.5 675,421.5 675,422.2 674,422.2 674,424.9 673,424.9 673,423.3 672,423.3 672,422.6 671,422.6 671,421.6 670,421.6 670,421.1 669,421.1 669,420.6 668,420.6 668,420.4 667,420.4 667,420.2 666,420.2 666,420.0 665,420.0 665,420.1 664,420.1 664,420.3 663,420.3 663,420.5 662,420.5 662,420.5 661,420.5 661,420.6 660,420.6 660,420.7 659,420.7 659,420.9 658,420.9 658,420.9 657,420.9 657,422.3 656,422.3 656,421.3 655,421.3 655,422.9 654,422.9 654,421.8 653,421.8 653,422.3 652,422.3 652,421.7 651,421.7 651,421.4 650,421.4 650,422.1 649,422.1 649,422.5 648,422.5 648,422.1 647,422.1 647,421.3 646,421.3 646,421.9 645,421.9 645,424.1 644,424.1 644,423.5 643,423.5 643,422.1 642,422.1 642,422.4 641,422.4 641,422.6 640,422.6 640,421.7 639,421.7 639,421.7 638,421.7 638,422.0 637,422.0 637,422.2 636,422.2 636,422.3 635,422.3 635,422.6 634,422.6 634,422.9 633,422.9 633,421.7 632,421.7 632,421.1 631,421.1 631,420.8 630,420.8 630,420.6 629,420.6 629,420.3 628,420.3 628,420.1 627,420.1 627,420.3 626,420.3 626,420.6 625,420.6 625,420.9 624,420.9 624,421.2 623,421.2 623,421.2 622,421.2 622,421.2 621,421.2 621,421.0 620,421.0 620,420.8 619,420.8 619,420.6 618,420.6 618,420.4 617,420.4 617,420.3 616,420.3 616,420.2 615,420.2 615,420.0 614,420.0 614,419.6 613,419.6 613,419.3 612,419.3 612,419.1 611,419.1 611,419.0 610,419.0 610,419.0 609,419.0 609,419.1 608,419.1 608,419.6 607,419.6 607,420.1 606,420.1 606,420.1 605,420.1 605,420.0 604,420.0 604,420.0 603,420.0 603,419.9 602,419.9 602,419.9 601,419.9 601,419.8 600,419.8 600,419.8 599,419.8 599,419.7 598,419.7 598,419.7 597,419.7 597,419.6 596,419.6 596,419.6 595,419.6 595,420.1 594,420.1 594,420.4 593,420.4 593,420.3 592,420.3 592,420.1 591,420.1 591,420.0 590,420.0 590,419.8 589,419.8 589,419.7 588,419.7 588,419.5 587,419.5 587,419.3 586,419.3 586,419.4 585,419.4 585,419.5 584,419.5 584,419.7 583,419.7 583,419.8 582,419.8 582,419.8 581,419.8 581,419.8 580,419.8 580,419.8 579,419.8 579,419.7 578,419.7 578,419.6 577,419.6 577,419.4 576,419.4 576,419.3 575,419.3 575,419.2 574,419.2 574,419.1 573,419.1 573,419.0 572,419.0 572,419.0 571,419.0 571,418.9 570,418.9 570,418.9 569,418.9 569,418.8 568,418.8 568,418.8 567,418.8 567,418.7 566,418.7 566,418.7 565,418.7 565,418.7 564,418.7 564,418.6 563,418.6 563,418.6 562,418.6 562,418.6 561,418.6 561,418.5 560,418.5 560,418.5 559,418.5 559,418.5 558,418.5 558,418.5 557,418.5 557,418.4 556,418.4 556,418.5 555,418.5 555,418.4 554,418.4 554,418.5 553,418.5 553,418.4 552,418.4 552,418.4 551,418.4 551,418.4 550,418.4 550,418.4 549,418.4 549,418.4 548,418.4 548,418.7 547,418.7 547,418.4 546,418.4 546,418.4 545,418.4 545,418.7 544,418.7 544,418.5 543,418.5 543,418.4 542,418.4 542,418.4 541,418.4 541,418.4 540,418.4 540,418.5 539,418.5 539,418.4 538,418.4 538,418.4 537,418.4 537,418.4 536,418.4 536,418.4 535,418.4 535,418.4 534,418.4 534,418.4 533,418.4 533,418.4 532,418.4 532,418.5 531,418.5 531,418.4 530,418.4 530,418.4 529,418.4 529,418.4 528,418.4 528,418.4 527,418.4 527,418.4 526,418.4 526,418.4 525,418.4 525,418.4 524,418.4 524,418.4 523,418.4 523,418.4 522,418.4 522,418.4 521,418.4 521,418.4 520,418.4 520,418.4 519,418.4 519,418.4 518,418.4 518,418.4 517,418.4 517,418.4 516,418.4 516,418.4 515,418.4 515,418.4 514,418.4 514,418.4 513,418.4 513,418.5 512,418.5 512,418.6 511,418.6 511,418.7 510,418.7 510,418.8 509,418.8 509,418.8 508,418.8 508,418.8 507,418.8 507,418.7 506,418.7 506,418.6 505,418.6 505,418.5 504,418.5 504,418.4 503,418.4 503,418.4 502,418.4 502,418.5 501,418.5 501,418.5 500,418.5 500,418.5 499,418.5 499,418.6 498,418.6 498,418.6 497,418.6 497,418.7 496,418.7 496,418.7 495,418.7 495,418.7 494,418.7 494,419.7 493,419.7 493,420.9 492,420.9 492,421.9 491,421.9 491,422.3 490,422.3 490,425.5 489,425.5 489,423.3 488,423.3 488,421.7 487,421.7 487,421.1 486,421.1 486,420.7 485,420.7 485,420.4 484,420.4 484,420.5 483,420.5 483,420.7 482,420.7 482,420.9 481,420.9 481,420.2 480,420.2 480,419.9 479,419.9 479,419.8 478,419.8 478,419.7 477,419.7 477,419.6 476,419.6 476,419.4 475,419.4 475,419.2 474,419.2 474,419.3 473,419.3 473,419.4 472,419.4 472,419.4 471,419.4 471,419.4 470,419.4 470,419.6 469,419.6 469,420.1 468,420.1 468,420.3 467,420.3 467,420.2 466,420.2 466,420.3 465,420.3 465,420.0 464,420.0 464,419.8 463,419.8 463,419.6 462,419.6 462,419.6 461,419.6 461,420.8 460,420.8 460,423.6 459,423.6 459,418.9 458,418.9 458,419.0 457,419.0 457,419.7 456,419.7 456,421.7 455,421.7 455,419.0 454,419.0 454,418.5 453,418.5 453,418.2 452,418.2 452,418.2 451,418.2 451,418.2 450,418.2 450,418.2 449,418.2 449,418.2 448,418.2 448,418.2 447,418.2 447,418.2 446,418.2 446,418.2 445,418.2 445,418.2 444,418.2 444,418.3 443,418.3 443,418.4 442,418.4 442,418.6 441,418.6 441,418.7 440,418.7 440,419.6 439,419.6 439,422.9 438,422.9 438,423.9 437,423.9 437,419.5 436,419.5 436,418.7 435,418.7 435,418.4 434,418.4 434,418.2 433,418.2 433,418.2 432,418.2 432,418.2 431,418.2 431,418.2 430,418.2 430,418.2 429,418.2 429,418.2 428,418.2 428,418.2 427,418.2 427,418.2 426,418.2 426,418.2 425,418.2 425,418.2 424,418.2Z" class="dt"/>
<rect x="423.5" y="372.5" width="263" height="59" class="bx"/>
<line x1="445.5" y1="431.5" x2="445.5" y2="437.5" class="tk"/>
<text x="445.7" y="455.0" class="xl" text-anchor="middle">2006</text>
<line x1="512.5" y1="431.5" x2="512.5" y2="437.5" class="tk"/>
<text x="512.7" y="455.0" class="xl" text-anchor="middle">2009</text>
<line x1="601.5" y1="431.5" x2="601.5" y2="437.5" class="tk"/>
<text x="601.7" y="455.0" class="xl" text-anchor="middle">2013</text>
<line x1="668.5" y1="431.5" x2="668.5" y2="437.5" class="tk"/>
<text x="668.7" y="455.0" class="xl" text-anchor="middle">2016</text>
<line x1="416.2" y1="374.5" x2="423.5" y2="374.5" class="tk"/>
<text transform="translate(408.2,374.5) rotate(-90) scale(0.86,1)" x="0" y="0" class="yl" text-anchor="middle">0.003</text>
<line x1="416.2" y1="403.5" x2="423.5" y2="403.5" class="tk"/>
<text transform="translate(408.2,403.5) rotate(-90) scale(0.86,1)" x="0" y="0" class="yl" text-anchor="middle">0.001</text>
<text x="215.8" y="488.3" class="pt" text-anchor="middle">Germany − Japan</text>
<path d="M85,541.9 86,541.9 86,539.1 87,539.1 87,541.1 88,541.1 88,542.0 89,542.0 89,539.2 90,539.2 90,537.4 91,537.4 91,537.4 92,537.4 92,533.1 93,533.1 93,533.1 94,533.1 94,534.2 95,534.2 95,535.9 96,535.9 96,534.1 97,534.1 97,535.3 98,535.3 98,534.5 99,534.5 99,535.6 100,535.6 100,532.0 101,532.0 101,533.7 102,533.7 102,533.7 103,533.7 103,535.5 104,535.5 104,539.1 105,539.1 105,539.0 106,539.0 106,540.6 107,540.6 107,542.6 108,542.6 108,543.4 109,543.4 109,543.3 110,543.3 110,545.5 111,545.5 111,547.2 112,547.2 112,550.0 113,550.0 113,551.9 114,551.9 114,552.1 115,552.1 115,546.5 116,546.5 116,544.3 117,544.3 117,543.8 118,543.8 118,541.1 119,541.1 119,539.0 120,539.0 120,537.3 121,537.3 121,536.4 122,536.4 122,538.2 123,538.2 123,545.6 124,545.6 124,545.3 125,545.3 125,544.8 126,544.8 126,542.9 127,542.9 127,542.9 128,542.9 128,540.6 129,540.6 129,540.2 130,540.2 130,536.9 131,536.9 131,536.2 132,536.2 132,535.6 133,535.6 133,535.2 134,535.2 134,539.4 135,539.4 135,532.1 136,532.1 136,533.8 137,533.8 137,537.9 138,537.9 138,535.1 139,535.1 139,536.4 140,536.4 140,538.2 141,538.2 141,532.5 142,532.5 142,525.3 143,525.3 143,525.7 144,525.7 144,524.4 145,524.4 145,523.9 146,523.9 146,528.2 147,528.2 147,533.0 148,533.0 148,537.0 149,537.0 149,537.1 150,537.1 150,533.2 151,533.2 151,533.5 152,533.5 152,533.1 153,533.1 153,534.9 154,534.9 154,531.9 155,531.9 155,532.7 156,532.7 156,531.4 157,531.4 157,532.4 158,532.4 158,534.2 159,534.2 159,533.7 160,533.7 160,530.9 161,530.9 161,531.8 162,531.8 162,533.1 163,533.1 163,533.8 164,533.8 164,531.0 165,531.0 165,530.2 166,530.2 166,528.8 167,528.8 167,529.2 168,529.2 168,529.2 169,529.2 169,526.8 170,526.8 170,527.9 171,527.9 171,527.3 172,527.3 172,524.1 173,524.1 173,524.4 174,524.4 174,519.0 175,519.0 175,520.9 176,520.9 176,516.9 177,516.9 177,517.4 178,517.4 178,522.2 179,522.2 179,521.0 180,521.0 180,522.1 181,522.1 181,521.8 182,521.8 182,521.2 183,521.2 183,519.9 184,519.9 184,521.2 185,521.2 185,525.8 186,525.8 186,526.1 187,526.1 187,521.6 188,521.6 188,520.1 189,520.1 189,527.3 190,527.3 190,528.8 191,528.8 191,526.4 192,526.4 192,526.7 193,526.7 193,525.0 194,525.0 194,526.5 195,526.5 195,522.3 196,522.3 196,529.2 197,529.2 197,534.2 198,534.2 198,531.5 199,531.5 199,528.2 200,528.2 200,526.1 201,526.1 201,527.0 202,527.0 202,529.6 203,529.6 203,529.2 204,529.2 204,527.4 205,527.4 205,521.9 206,521.9 206,518.8 207,518.8 207,521.7 208,521.7 208,522.1 209,522.1 209,520.7 210,520.7 210,522.1 211,522.1 211,525.8 212,525.8 212,527.6 213,527.6 213,523.6 214,523.6 214,526.7 215,526.7 215,530.1 216,530.1 216,532.8 217,532.8 217,530.4 218,530.4 218,529.3 219,529.3 219,527.8 220,527.8 220,532.6 221,532.6 221,532.3 222,532.3 222,525.5 223,525.5 223,527.6 224,527.6 224,529.4 225,529.4 225,530.3 226,530.3 226,529.0 227,529.0 227,529.4 228,529.4 228,534.6 229,534.6 229,534.6 230,534.6 230,537.2 231,537.2 231,534.4 232,534.4 232,532.3 233,532.3 233,524.8 234,524.8 234,512.1 235,512.1 235,511.0 236,511.0 236,511.6 237,511.6 237,514.4 238,514.4 238,514.8 239,514.8 239,512.3 240,512.3 240,511.7 241,511.7 241,511.7 242,511.7 242,511.7 243,511.7 243,516.3 244,516.3 244,524.2 245,524.2 245,528.7 246,528.7 246,529.8 247,529.8 247,529.9 248,529.9 248,527.7 249,527.7 249,521.4 250,521.4 250,525.1 251,525.1 251,529.1 252,529.1 252,527.9 253,527.9 253,524.9 254,524.9 254,529.8 255,529.8 255,524.5 256,524.5 256,520.3 257,520.3 257,521.9 258,521.9 258,528.5 259,528.5 259,528.3 260,528.3 260,533.1 261,533.1 261,531.5 262,531.5 262,528.3 263,528.3 263,530.3 264,530.3 264,534.3 265,534.3 265,537.4 266,537.4 266,540.3 267,540.3 267,541.4 268,541.4 268,538.6 269,538.6 269,539.0 270,539.0 270,535.4 271,535.4 271,534.1 272,534.1 272,533.3 273,533.3 273,533.3 274,533.3 274,536.5 275,536.5 275,537.4 276,537.4 276,535.7 277,535.7 277,538.7 278,538.7 278,538.4 279,538.4 279,542.3 280,542.3 280,539.7 281,539.7 281,540.5 282,540.5 282,535.9 283,535.9 283,532.8 284,532.8 284,535.7 285,535.7 285,542.6 286,542.6 286,542.7 287,542.7 287,543.5 288,543.5 288,542.6 289,542.6 289,539.5 290,539.5 290,534.3 291,534.3 291,536.1 292,536.1 292,540.3 293,540.3 293,538.2 294,538.2 294,540.0 295,540.0 295,537.3 296,537.3 296,537.6 297,537.6 297,536.5 298,536.5 298,537.0 299,537.0 299,534.8 300,534.8 300,535.3 301,535.3 301,533.4 302,533.4 302,533.6 303,533.6 303,533.7 304,533.7 304,531.4 305,531.4 305,532.4 306,532.4 306,532.9 307,532.9 307,531.4 308,531.4 308,529.2 309,529.2 309,527.3 310,527.3 310,523.6 311,523.6 311,525.9 312,525.9 312,527.5 313,527.5 313,530.8 314,530.8 314,532.3 315,532.3 315,529.8 316,529.8 316,530.3 317,530.3 317,527.5 318,527.5 318,529.1 319,529.1 319,524.3 320,524.3 320,523.3 321,523.3 321,531.1 322,531.1 322,531.8 323,531.8 323,528.2 324,528.2 324,518.4 325,518.4 325,524.7 326,524.7 326,527.5 327,527.5 327,530.2 328,530.2 328,532.5 329,532.5 329,531.8 330,531.8 330,532.2 331,532.2 331,526.5 332,526.5 332,526.2 333,526.2 333,528.5 334,528.5 334,532.4 335,532.4 335,531.2 336,531.2 336,532.2 337,532.2 337,531.2 338,531.2 338,538.0 339,538.0 339,541.9 340,541.9 340,535.9 341,535.9 341,532.5 342,532.5 342,534.8 343,534.8 343,534.0 344,534.0 344,536.0 345,536.0 345,536.6 346,536.6 346,536.0 347,536.0 347,554.5 346,554.5 346,554.5 345,554.5 345,554.5 344,554.5 344,554.5 343,554.5 343,554.5 342,554.5 342,554.5 341,554.5 341,554.5 340,554.5 340,554.5 339,554.5 339,554.5 338,554.5 338,554.5 337,554.5 337,554.5 336,554.5 336,554.5 335,554.5 335,554.5 334,554.5 334,554.5 333,554.5 333,554.5 332,554.5 332,554.5 331,554.5 331,554.5 330,554.5 330,554.5 329,554.5 329,554.5 328,554.5 328,554.5 327,554.5 327,554.5 326,554.5 326,554.5 325,554.5 325,554.5 324,554.5 324,554.5 323,554.5 323,554.5 322,554.5 322,554.5 321,554.5 321,554.5 320,554.5 320,554.5 319,554.5 319,554.5 318,554.5 318,554.5 317,554.5 317,554.5 316,554.5 316,554.5 315,554.5 315,554.5 314,554.5 314,554.5 313,554.5 313,554.5 312,554.5 312,554.5 311,554.5 311,554.5 310,554.5 310,554.5 309,554.5 309,554.5 308,554.5 308,554.5 307,554.5 307,554.5 306,554.5 306,554.5 305,554.5 305,554.5 304,554.5 304,554.5 303,554.5 303,554.5 302,554.5 302,554.5 301,554.5 301,554.5 300,554.5 300,554.5 299,554.5 299,554.5 298,554.5 298,554.5 297,554.5 297,554.5 296,554.5 296,554.5 295,554.5 295,554.5 294,554.5 294,554.5 293,554.5 293,554.5 292,554.5 292,554.5 291,554.5 291,554.5 290,554.5 290,554.5 289,554.5 289,554.5 288,554.5 288,554.5 287,554.5 287,554.5 286,554.5 286,554.5 285,554.5 285,554.5 284,554.5 284,554.5 283,554.5 283,554.5 282,554.5 282,554.5 281,554.5 281,554.5 280,554.5 280,554.5 279,554.5 279,554.5 278,554.5 278,554.5 277,554.5 277,554.5 276,554.5 276,554.5 275,554.5 275,554.5 274,554.5 274,554.5 273,554.5 273,554.5 272,554.5 272,554.5 271,554.5 271,554.5 270,554.5 270,554.5 269,554.5 269,554.5 268,554.5 268,554.5 267,554.5 267,554.5 266,554.5 266,554.5 265,554.5 265,554.5 264,554.5 264,554.5 263,554.5 263,554.5 262,554.5 262,554.5 261,554.5 261,554.5 260,554.5 260,554.5 259,554.5 259,554.5 258,554.5 258,554.5 257,554.5 257,554.5 256,554.5 256,554.5 255,554.5 255,554.5 254,554.5 254,554.5 253,554.5 253,554.5 252,554.5 252,554.5 251,554.5 251,554.5 250,554.5 250,554.5 249,554.5 249,554.5 248,554.5 248,554.5 247,554.5 247,554.5 246,554.5 246,554.5 245,554.5 245,554.5 244,554.5 244,554.5 243,554.5 243,554.5 242,554.5 242,554.5 241,554.5 241,554.5 240,554.5 240,554.5 239,554.5 239,554.5 238,554.5 238,554.5 237,554.5 237,554.5 236,554.5 236,554.5 235,554.5 235,554.5 234,554.5 234,554.5 233,554.5 233,554.5 232,554.5 232,554.5 231,554.5 231,554.5 230,554.5 230,554.5 229,554.5 229,554.5 228,554.5 228,554.5 227,554.5 227,554.5 226,554.5 226,554.7 225,554.7 225,556.1 224,556.1 224,554.5 223,554.5 223,554.5 222,554.5 222,554.5 221,554.5 221,554.5 220,554.5 220,554.5 219,554.5 219,554.5 218,554.5 218,554.5 217,554.5 217,554.5 216,554.5 216,554.5 215,554.5 215,554.5 214,554.5 214,554.5 213,554.5 213,554.5 212,554.5 212,554.5 211,554.5 211,554.5 210,554.5 210,554.5 209,554.5 209,554.5 208,554.5 208,554.5 207,554.5 207,554.5 206,554.5 206,554.5 205,554.5 205,554.5 204,554.5 204,554.5 203,554.5 203,554.5 202,554.5 202,554.5 201,554.5 201,554.5 200,554.5 200,554.5 199,554.5 199,554.5 198,554.5 198,554.5 197,554.5 197,554.5 196,554.5 196,554.5 195,554.5 195,554.5 194,554.5 194,554.5 193,554.5 193,554.5 192,554.5 192,554.5 191,554.5 191,554.5 190,554.5 190,554.5 189,554.5 189,554.5 188,554.5 188,554.5 187,554.5 187,554.5 186,554.5 186,554.5 185,554.5 185,554.5 184,554.5 184,554.5 183,554.5 183,554.5 182,554.5 182,554.5 181,554.5 181,554.5 180,554.5 180,554.5 179,554.5 179,554.5 178,554.5 178,554.5 177,554.5 177,554.5 176,554.5 176,554.5 175,554.5 175,554.5 174,554.5 174,554.5 173,554.5 173,554.5 172,554.5 172,554.5 171,554.5 171,554.5 170,554.5 170,554.5 169,554.5 169,554.5 168,554.5 168,554.5 167,554.5 167,554.5 166,554.5 166,554.5 165,554.5 165,554.5 164,554.5 164,554.5 163,554.5 163,554.5 162,554.5 162,554.5 161,554.5 161,554.5 160,554.5 160,554.5 159,554.5 159,554.5 158,554.5 158,554.5 157,554.5 157,554.5 156,554.5 156,554.5 155,554.5 155,554.5 154,554.5 154,554.5 153,554.5 153,554.5 152,554.5 152,554.5 151,554.5 151,554.5 150,554.5 150,554.5 149,554.5 149,554.5 148,554.5 148,554.5 147,554.5 147,554.5 146,554.5 146,554.5 145,554.5 145,554.5 144,554.5 144,554.5 143,554.5 143,554.5 142,554.5 142,554.5 141,554.5 141,554.5 140,554.5 140,554.5 139,554.5 139,554.5 138,554.5 138,554.5 137,554.5 137,554.5 136,554.5 136,554.5 135,554.5 135,554.5 134,554.5 134,554.5 133,554.5 133,554.5 132,554.5 132,554.5 131,554.5 131,554.5 130,554.5 130,554.5 129,554.5 129,554.5 128,554.5 128,554.5 127,554.5 127,554.5 126,554.5 126,554.5 125,554.5 125,554.5 124,554.5 124,554.5 123,554.5 123,554.5 122,554.5 122,554.5 121,554.5 121,554.5 120,554.5 120,554.5 119,554.5 119,554.5 118,554.5 118,554.5 117,554.5 117,554.5 116,554.5 116,554.5 115,554.5 115,554.7 114,554.7 114,556.1 113,556.1 113,554.7 112,554.7 112,554.5 111,554.5 111,554.5 110,554.5 110,554.5 109,554.5 109,554.5 108,554.5 108,554.5 107,554.5 107,554.5 106,554.5 106,554.5 105,554.5 105,554.5 104,554.5 104,554.5 103,554.5 103,554.5 102,554.5 102,554.5 101,554.5 101,554.5 100,554.5 100,554.5 99,554.5 99,554.5 98,554.5 98,554.5 97,554.5 97,554.5 96,554.5 96,554.5 95,554.5 95,554.5 94,554.5 94,554.5 93,554.5 93,554.5 92,554.5 92,554.5 91,554.5 91,554.5 90,554.5 90,554.5 89,554.5 89,554.5 88,554.5 88,554.5 87,554.5 87,554.5 86,554.5 86,554.5 85,554.5Z" class="dt"/>
<rect x="84.5" y="508.5" width="263" height="59" class="bx"/>
<line x1="106.5" y1="567.5" x2="106.5" y2="573.5" class="tk"/>
<text x="106.7" y="591.0" class="xl" text-anchor="middle">2006</text>
<line x1="173.5" y1="567.5" x2="173.5" y2="573.5" class="tk"/>
<text x="173.7" y="591.0" class="xl" text-anchor="middle">2009</text>
<line x1="262.5" y1="567.5" x2="262.5" y2="573.5" class="tk"/>
<text x="262.7" y="591.0" class="xl" text-anchor="middle">2013</text>
<line x1="329.5" y1="567.5" x2="329.5" y2="573.5" class="tk"/>
<text x="329.7" y="591.0" class="xl" text-anchor="middle">2016</text>
<line x1="77.2" y1="510.5" x2="84.5" y2="510.5" class="tk"/>
<text transform="translate(69.2,510.5) rotate(-90) scale(0.86,1)" x="0" y="0" class="yl" text-anchor="middle">0.003</text>
<line x1="77.2" y1="539.5" x2="84.5" y2="539.5" class="tk"/>
<text transform="translate(69.2,539.5) rotate(-90) scale(0.86,1)" x="0" y="0" class="yl" text-anchor="middle">0.001</text>
<text x="554.8" y="488.3" class="pt" text-anchor="middle">Germany − Australia</text>
<path d="M424,530.4 425,530.4 425,527.4 426,527.4 426,529.2 427,529.2 427,525.8 428,525.8 428,529.2 429,529.2 429,534.3 430,534.3 430,533.4 431,533.4 431,540.9 432,540.9 432,537.1 433,537.1 433,534.5 434,534.5 434,535.7 435,535.7 435,538.7 436,538.7 436,539.7 437,539.7 437,538.0 438,538.0 438,531.3 439,531.3 439,533.0 440,533.0 440,538.4 441,538.4 441,539.2 442,539.2 442,540.8 443,540.8 443,541.4 444,541.4 444,542.1 445,542.1 445,545.1 446,545.1 446,546.1 447,546.1 447,543.3 448,543.3 448,538.2 449,538.2 449,539.3 450,539.3 450,540.3 451,540.3 451,543.1 452,543.1 452,546.0 453,546.0 453,543.5 454,543.5 454,539.9 455,539.9 455,541.8 456,541.8 456,545.5 457,545.5 457,542.3 458,542.3 458,537.7 459,537.7 459,535.7 460,535.7 460,536.7 461,536.7 461,538.1 462,538.1 462,536.5 463,536.5 463,540.6 464,540.6 464,542.0 465,542.0 465,542.4 466,542.4 466,541.9 467,541.9 467,541.2 468,541.2 468,540.1 469,540.1 469,541.7 470,541.7 470,545.0 471,545.0 471,542.2 472,542.2 472,543.1 473,543.1 473,538.8 474,538.8 474,537.7 475,537.7 475,538.1 476,538.1 476,542.4 477,542.4 477,544.7 478,544.7 478,542.8 479,542.8 479,542.1 480,542.1 480,539.9 481,539.9 481,539.2 482,539.2 482,538.4 483,538.4 483,536.5 484,536.5 484,530.5 485,530.5 485,540.6 486,540.6 486,542.7 487,542.7 487,540.3 488,540.3 488,543.2 489,543.2 489,538.6 490,538.6 490,535.2 491,535.2 491,537.2 492,537.2 492,531.5 493,531.5 493,529.3 494,529.3 494,527.0 495,527.0 495,530.8 496,530.8 496,535.8 497,535.8 497,534.4 498,534.4 498,529.4 499,529.4 499,529.4 500,529.4 500,537.0 501,537.0 501,532.0 502,532.0 502,530.4 503,530.4 503,527.2 504,527.2 504,529.9 505,529.9 505,526.5 506,526.5 506,529.3 507,529.3 507,534.5 508,534.5 508,532.0 509,532.0 509,527.7 510,527.7 510,520.8 511,520.8 511,526.7 512,526.7 512,534.1 513,534.1 513,531.6 514,531.6 514,528.9 515,528.9 515,526.9 516,526.9 516,526.4 517,526.4 517,527.5 518,527.5 518,527.1 519,527.1 519,523.5 520,523.5 520,520.9 521,520.9 521,523.2 522,523.2 522,522.0 523,522.0 523,525.7 524,525.7 524,527.2 525,527.2 525,527.8 526,527.8 526,523.2 527,523.2 527,524.3 528,524.3 528,528.8 529,528.8 529,532.4 530,532.4 530,531.3 531,531.3 531,526.9 532,526.9 532,527.9 533,527.9 533,529.6 534,529.6 534,528.0 535,528.0 535,530.6 536,530.6 536,536.3 537,536.3 537,532.1 538,532.1 538,530.4 539,530.4 539,526.8 540,526.8 540,531.6 541,531.6 541,531.6 542,531.6 542,532.2 543,532.2 543,528.6 544,528.6 544,522.2 545,522.2 545,520.5 546,520.5 546,520.7 547,520.7 547,524.3 548,524.3 548,524.0 549,524.0 549,526.0 550,526.0 550,527.6 551,527.6 551,531.1 552,531.1 552,530.8 553,530.8 553,530.7 554,530.7 554,533.2 555,533.2 555,533.6 556,533.6 556,539.6 557,539.6 557,534.3 558,534.3 558,529.0 559,529.0 559,531.8 560,531.8 560,534.1 561,534.1 561,531.7 562,531.7 562,528.0 563,528.0 563,528.0 564,528.0 564,530.9 565,530.9 565,532.4 566,532.4 566,532.1 567,532.1 567,531.9 568,531.9 568,537.1 569,537.1 569,535.3 570,535.3 570,533.6 571,533.6 571,532.8 572,532.8 572,525.6 573,525.6 573,517.4 574,517.4 574,521.9 575,521.9 575,525.6 576,525.6 576,521.7 577,521.7 577,521.8 578,521.8 578,520.9 579,520.9 579,516.3 580,516.3 580,520.4 581,520.4 581,516.6 582,516.6 582,521.4 583,521.4 583,529.2 584,529.2 584,533.8 585,533.8 585,537.9 586,537.9 586,531.3 587,531.3 587,526.6 588,526.6 588,520.1 589,520.1 589,525.6 590,525.6 590,530.4 591,530.4 591,529.9 592,529.9 592,525.9 593,525.9 593,527.6 594,527.6 594,519.8 595,519.8 595,513.9 596,513.9 596,518.0 597,518.0 597,520.4 598,520.4 598,522.9 599,522.9 599,526.4 600,526.4 600,523.4 601,523.4 601,523.0 602,523.0 602,526.0 603,526.0 603,526.4 604,526.4 604,530.7 605,530.7 605,529.2 606,529.2 606,530.6 607,530.6 607,531.3 608,531.3 608,533.4 609,533.4 609,529.7 610,529.7 610,530.7 611,530.7 611,530.0 612,530.0 612,529.9 613,529.9 613,526.9 614,526.9 614,530.0 615,530.0 615,533.5 616,533.5 616,532.5 617,532.5 617,534.4 618,534.4 618,533.9 619,533.9 619,528.8 620,528.8 620,531.5 621,531.5 621,527.1 622,527.1 622,527.0 623,527.0 623,533.9 624,533.9 624,532.5 625,532.5 625,538.7 626,538.7 626,538.4 627,538.4 627,537.5 628,537.5 628,530.8 629,530.8 629,530.0 630,530.0 630,529.1 631,529.1 631,530.4 632,530.4 632,532.4 633,532.4 633,532.9 634,532.9 634,534.4 635,534.4 635,532.7 636,532.7 636,536.4 637,536.4 637,536.3 638,536.3 638,532.3 639,532.3 639,532.5 640,532.5 640,530.0 641,530.0 641,526.6 642,526.6 642,529.0 643,529.0 643,527.4 644,527.4 644,532.1 645,532.1 645,530.5 646,530.5 646,524.5 647,524.5 647,522.6 648,522.6 648,522.7 649,522.7 649,520.2 650,520.2 650,525.2 651,525.2 651,530.3 652,530.3 652,532.4 653,532.4 653,530.2 654,530.2 654,526.3 655,526.3 655,527.4 656,527.4 656,531.7 657,531.7 657,532.5 658,532.5 658,531.5 659,531.5 659,528.8 660,528.8 660,532.8 661,532.8 661,534.0 662,534.0 662,535.8 663,535.8 663,533.0 664,533.0 664,529.4 665,529.4 665,530.9 666,530.9 666,531.0 667,531.0 667,534.1 668,534.1 668,537.1 669,537.1 669,536.9 670,536.9 670,537.8 671,537.8 671,532.6 672,532.6 672,528.5 673,528.5 673,526.6 674,526.6 674,527.8 675,527.8 675,524.7 676,524.7 676,536.0 677,536.0 677,536.2 678,536.2 678,536.4 679,536.4 679,535.1 680,535.1 680,534.1 681,534.1 681,531.9 682,531.9 682,529.3 683,529.3 683,533.7 684,533.7 684,536.8 685,536.8 685,536.3 686,536.3 686,554.5 685,554.5 685,554.5 684,554.5 684,554.5 683,554.5 683,554.5 682,554.5 682,554.5 681,554.5 681,554.5 680,554.5 680,554.5 679,554.5 679,554.5 678,554.5 678,554.5 677,554.5 677,554.5 676,554.5 676,554.5 675,554.5 675,554.5 674,554.5 674,554.5 673,554.5 673,554.5 672,554.5 672,554.5 671,554.5 671,554.5 670,554.5 670,554.5 669,554.5 669,554.5 668,554.5 668,554.5 667,554.5 667,554.5 666,554.5 666,554.5 665,554.5 665,554.5 664,554.5 664,554.5 663,554.5 663,554.5 662,554.5 662,554.5 661,554.5 661,554.5 660,554.5 660,554.5 659,554.5 659,554.5 658,554.5 658,554.5 657,554.5 657,554.5 656,554.5 656,554.5 655,554.5 655,554.5 654,554.5 654,554.5 653,554.5 653,554.5 652,554.5 652,554.5 651,554.5 651,554.5 650,554.5 650,554.5 649,554.5 649,554.5 648,554.5 648,554.5 647,554.5 647,554.5 646,554.5 646,554.5 645,554.5 645,554.5 644,554.5 644,554.5 643,554.5 643,554.5 642,554.5 642,554.5 641,554.5 641,554.5 640,554.5 640,554.5 639,554.5 639,554.5 638,554.5 638,554.5 637,554.5 637,554.5 636,554.5 636,554.5 635,554.5 635,554.5 634,554.5 634,554.5 633,554.5 633,554.5 632,554.5 632,554.5 631,554.5 631,554.5 630,554.5 630,554.5 629,554.5 629,554.5 628,554.5 628,554.5 627,554.5 627,554.5 626,554.5 626,554.5 625,554.5 625,554.5 624,554.5 624,554.5 623,554.5 623,554.5 622,554.5 622,554.5 621,554.5 621,554.5 620,554.5 620,554.5 619,554.5 619,554.5 618,554.5 618,554.5 617,554.5 617,554.5 616,554.5 616,554.5 615,554.5 615,554.5 614,554.5 614,554.5 613,554.5 613,554.5 612,554.5 612,554.5 611,554.5 611,554.5 610,554.5 610,554.5 609,554.5 609,554.5 608,554.5 608,554.5 607,554.5 607,554.5 606,554.5 606,554.5 605,554.5 605,554.5 604,554.5 604,554.5 603,554.5 603,554.5 602,554.5 602,554.5 601,554.5 601,554.5 600,554.5 600,554.5 599,554.5 599,554.5 598,554.5 598,554.5 597,554.5 597,554.5 596,554.5 596,554.5 595,554.5 595,554.5 594,554.5 594,554.5 593,554.5 593,554.5 592,554.5 592,554.5 591,554.5 591,554.5 590,554.5 590,554.5 589,554.5 589,554.5 588,554.5 588,554.5 587,554.5 587,554.5 586,554.5 586,554.5 585,554.5 585,554.5 584,554.5 584,554.5 583,554.5 583,554.5 582,554.5 582,554.5 581,554.5 581,554.5 580,554.5 580,554.5 579,554.5 579,554.5 578,554.5 578,554.5 577,554.5 577,554.5 576,554.5 576,554.5 575,554.5 575,554.5 574,554.5 574,554.5 573,554.5 573,554.5 572,554.5 572,554.5 571,554.5 571,554.5 570,554.5 570,554.5 569,554.5 569,554.5 568,554.5 568,554.5 567,554.5 567,554.5 566,554.5 566,554.5 565,554.5 565,554.5 564,554.5 564,554.5 563,554.5 563,554.5 562,554.5 562,554.5 561,554.5 561,554.5 560,554.5 560,554.5 559,554.5 559,554.5 558,554.5 558,554.5 557,554.5 557,554.5 556,554.5 556,554.5 555,554.5 555,554.5 554,554.5 554,554.5 553,554.5 553,554.5 552,554.5 552,554.5 551,554.5 551,554.5 550,554.5 550,554.5 549,554.5 549,554.5 548,554.5 548,554.5 547,554.5 547,554.5 546,554.5 546,554.5 545,554.5 545,554.5 544,554.5 544,554.5 543,554.5 543,554.5 542,554.5 542,554.5 541,554.5 541,554.5 540,554.5 540,554.5 539,554.5 539,554.5 538,554.5 538,554.5 537,554.5 537,554.5 536,554.5 536,554.5 535,554.5 535,554.5 534,554.5 534,554.5 533,554.5 533,554.5 532,554.5 532,554.5 531,554.5 531,554.5 530,554.5 530,554.5 529,554.5 529,554.5 528,554.5 528,554.5 527,554.5 527,554.5 526,554.5 526,554.5 525,554.5 525,554.5 524,554.5 524,554.5 523,554.5 523,554.5 522,554.5 522,554.5 521,554.5 521,554.5 520,554.5 520,554.5 519,554.5 519,554.5 518,554.5 518,554.5 517,554.5 517,554.5 516,554.5 516,554.5 515,554.5 515,554.5 514,554.5 514,554.5 513,554.5 513,554.5 512,554.5 512,554.5 511,554.5 511,554.5 510,554.5 510,554.5 509,554.5 509,554.5 508,554.5 508,554.5 507,554.5 507,554.5 506,554.5 506,554.5 505,554.5 505,554.5 504,554.5 504,554.5 503,554.5 503,554.5 502,554.5 502,554.5 501,554.5 501,554.5 500,554.5 500,554.5 499,554.5 499,554.5 498,554.5 498,554.5 497,554.5 497,554.5 496,554.5 496,554.5 495,554.5 495,554.5 494,554.5 494,554.5 493,554.5 493,554.5 492,554.5 492,554.5 491,554.5 491,554.5 490,554.5 490,554.5 489,554.5 489,554.5 488,554.5 488,554.5 487,554.5 487,554.5 486,554.5 486,554.5 485,554.5 485,554.5 484,554.5 484,554.5 483,554.5 483,554.5 482,554.5 482,554.5 481,554.5 481,554.5 480,554.5 480,554.5 479,554.5 479,554.5 478,554.5 478,554.5 477,554.5 477,554.5 476,554.5 476,554.5 475,554.5 475,554.5 474,554.5 474,554.5 473,554.5 473,554.5 472,554.5 472,554.5 471,554.5 471,554.5 470,554.5 470,554.5 469,554.5 469,554.5 468,554.5 468,554.5 467,554.5 467,554.5 466,554.5 466,554.5 465,554.5 465,554.5 464,554.5 464,554.5 463,554.5 463,554.5 462,554.5 462,554.5 461,554.5 461,554.5 460,554.5 460,554.5 459,554.5 459,554.5 458,554.5 458,554.5 457,554.5 457,554.5 456,554.5 456,554.5 455,554.5 455,554.5 454,554.5 454,554.5 453,554.5 453,554.5 452,554.5 452,554.5 451,554.5 451,554.5 450,554.5 450,554.5 449,554.5 449,554.5 448,554.5 448,554.5 447,554.5 447,554.5 446,554.5 446,554.5 445,554.5 445,554.5 444,554.5 444,554.5 443,554.5 443,554.5 442,554.5 442,554.5 441,554.5 441,554.5 440,554.5 440,554.5 439,554.5 439,554.5 438,554.5 438,554.5 437,554.5 437,554.5 436,554.5 436,554.5 435,554.5 435,554.5 434,554.5 434,554.5 433,554.5 433,554.5 432,554.5 432,554.5 431,554.5 431,554.5 430,554.5 430,554.5 429,554.5 429,554.5 428,554.5 428,554.5 427,554.5 427,554.5 426,554.5 426,554.5 425,554.5 425,554.5 424,554.5Z" class="dt"/>
<rect x="423.5" y="508.5" width="263" height="59" class="bx"/>
<line x1="445.5" y1="567.5" x2="445.5" y2="573.5" class="tk"/>
<text x="445.7" y="591.0" class="xl" text-anchor="middle">2006</text>
<line x1="512.5" y1="567.5" x2="512.5" y2="573.5" class="tk"/>
<text x="512.7" y="591.0" class="xl" text-anchor="middle">2009</text>
<line x1="601.5" y1="567.5" x2="601.5" y2="573.5" class="tk"/>
<text x="601.7" y="591.0" class="xl" text-anchor="middle">2013</text>
<line x1="668.5" y1="567.5" x2="668.5" y2="573.5" class="tk"/>
<text x="668.7" y="591.0" class="xl" text-anchor="middle">2016</text>
<line x1="416.2" y1="510.5" x2="423.5" y2="510.5" class="tk"/>
<text transform="translate(408.2,510.5) rotate(-90) scale(0.86,1)" x="0" y="0" class="yl" text-anchor="middle">0.003</text>
<line x1="416.2" y1="539.5" x2="423.5" y2="539.5" class="tk"/>
<text transform="translate(408.2,539.5) rotate(-90) scale(0.86,1)" x="0" y="0" class="yl" text-anchor="middle">0.001</text>
<text x="385.3" y="623.3" class="pt" text-anchor="middle">Germany − China</text>
<path d="M255,676.2 256,676.2 256,677.6 257,677.6 257,680.6 258,680.6 258,678.9 259,678.9 259,680.0 260,680.0 260,680.8 261,680.8 261,680.5 262,680.5 262,678.1 263,678.1 263,678.7 264,678.7 264,676.9 265,676.9 265,676.9 266,676.9 266,677.1 267,677.1 267,679.6 268,679.6 268,680.6 269,680.6 269,679.8 270,679.8 270,680.4 271,680.4 271,683.2 272,683.2 272,681.4 273,681.4 273,683.6 274,683.6 274,682.2 275,682.2 275,684.0 276,684.0 276,684.4 277,684.4 277,685.0 278,685.0 278,684.7 279,684.7 279,683.8 280,683.8 280,684.2 281,684.2 281,685.9 282,685.9 282,686.2 283,686.2 283,686.2 284,686.2 284,686.0 285,686.0 285,685.2 286,685.2 286,685.5 287,685.5 287,685.8 288,685.8 288,684.5 289,684.5 289,683.8 290,683.8 290,683.2 291,683.2 291,678.1 292,678.1 292,681.8 293,681.8 293,682.6 294,682.6 294,684.6 295,684.6 295,685.8 296,685.8 296,685.2 297,685.2 297,686.4 298,686.4 298,686.8 299,686.8 299,686.4 300,686.4 300,687.2 301,687.2 301,687.2 302,687.2 302,686.4 303,686.4 303,685.6 304,685.6 304,684.3 305,684.3 305,681.7 306,681.7 306,684.8 307,684.8 307,684.8 308,684.8 308,685.7 309,685.7 309,685.8 310,685.8 310,683.8 311,683.8 311,683.6 312,683.6 312,681.9 313,681.9 313,681.0 314,681.0 314,680.2 315,680.2 315,679.1 316,679.1 316,682.1 317,682.1 317,682.2 318,682.2 318,683.7 319,683.7 319,682.2 320,682.2 320,682.2 321,682.2 321,682.8 322,682.8 322,680.7 323,680.7 323,681.7 324,681.7 324,680.4 325,680.4 325,679.2 326,679.2 326,679.6 327,679.6 327,676.7 328,676.7 328,678.0 329,678.0 329,675.9 330,675.9 330,672.4 331,672.4 331,675.5 332,675.5 332,673.8 333,673.8 333,674.1 334,674.1 334,673.6 335,673.6 335,670.3 336,670.3 336,674.1 337,674.1 337,672.8 338,672.8 338,671.7 339,671.7 339,673.6 340,673.6 340,667.6 341,667.6 341,671.6 342,671.6 342,675.9 343,675.9 343,675.8 344,675.8 344,676.2 345,676.2 345,674.9 346,674.9 346,677.4 347,677.4 347,675.2 348,675.2 348,675.3 349,675.3 349,677.4 350,677.4 350,675.7 351,675.7 351,672.8 352,672.8 352,676.9 353,676.9 353,676.5 354,676.5 354,677.5 355,677.5 355,678.8 356,678.8 356,680.0 357,680.0 357,682.5 358,682.5 358,681.2 359,681.2 359,680.7 360,680.7 360,681.0 361,681.0 361,681.4 362,681.4 362,680.4 363,680.4 363,682.5 364,682.5 364,679.4 365,679.4 365,679.6 366,679.6 366,682.0 367,682.0 367,680.2 368,680.2 368,680.2 369,680.2 369,679.0 370,679.0 370,673.6 371,673.6 371,677.3 372,677.3 372,676.5 373,676.5 373,677.2 374,677.2 374,678.7 375,678.7 375,663.0 376,663.0 376,670.4 377,670.4 377,675.6 378,675.6 378,674.6 379,674.6 379,671.9 380,671.9 380,674.1 381,674.1 381,674.6 382,674.6 382,677.3 383,677.3 383,676.6 384,676.6 384,677.9 385,677.9 385,678.8 386,678.8 386,679.8 387,679.8 387,682.7 388,682.7 388,680.8 389,680.8 389,678.3 390,678.3 390,678.3 391,678.3 391,678.9 392,678.9 392,679.5 393,679.5 393,681.7 394,681.7 394,680.1 395,680.1 395,681.1 396,681.1 396,681.8 397,681.8 397,682.3 398,682.3 398,683.5 399,683.5 399,681.1 400,681.1 400,681.4 401,681.4 401,680.7 402,680.7 402,680.6 403,680.6 403,662.1 404,662.1 404,662.7 405,662.7 405,672.5 406,672.5 406,676.6 407,676.6 407,676.0 408,676.0 408,677.9 409,677.9 409,673.5 410,673.5 410,673.6 411,673.6 411,671.9 412,671.9 412,671.2 413,671.2 413,675.8 414,675.8 414,679.2 415,679.2 415,682.7 416,682.7 416,682.3 417,682.3 417,682.6 418,682.6 418,678.9 419,678.9 419,673.2 420,673.2 420,676.7 421,676.7 421,678.8 422,678.8 422,678.9 423,678.9 423,681.2 424,681.2 424,679.2 425,679.2 425,676.4 426,676.4 426,670.5 427,670.5 427,672.7 428,672.7 428,678.5 429,678.5 429,676.9 430,676.9 430,677.4 431,677.4 431,674.0 432,674.0 432,676.2 433,676.2 433,680.7 434,680.7 434,681.3 435,681.3 435,681.5 436,681.5 436,678.5 437,678.5 437,678.9 438,678.9 438,678.2 439,678.2 439,678.4 440,678.4 440,678.0 441,678.0 441,677.1 442,677.1 442,673.5 443,673.5 443,678.1 444,678.1 444,678.4 445,678.4 445,678.8 446,678.8 446,679.2 447,679.2 447,681.2 448,681.2 448,680.8 449,680.8 449,680.7 450,680.7 450,682.4 451,682.4 451,678.2 452,678.2 452,677.3 453,677.3 453,671.5 454,671.5 454,681.2 455,681.2 455,681.7 456,681.7 456,683.1 457,683.1 457,682.0 458,682.0 458,678.8 459,678.8 459,676.6 460,676.6 460,678.5 461,678.5 461,680.5 462,680.5 462,680.2 463,680.2 463,679.0 464,679.0 464,680.4 465,680.4 465,681.1 466,681.1 466,680.5 467,680.5 467,680.6 468,680.6 468,681.3 469,681.3 469,677.4 470,677.4 470,678.5 471,678.5 471,675.6 472,675.6 472,676.5 473,676.5 473,677.2 474,677.2 474,676.3 475,676.3 475,672.0 476,672.0 476,674.7 477,674.7 477,670.5 478,670.5 478,672.6 479,672.6 479,668.7 480,668.7 480,670.1 481,670.1 481,672.0 482,672.0 482,677.2 483,677.2 483,679.1 484,679.1 484,675.9 485,675.9 485,680.2 486,680.2 486,679.6 487,679.6 487,681.2 488,681.2 488,680.3 489,680.3 489,678.6 490,678.6 490,680.4 491,680.4 491,684.1 492,684.1 492,684.7 493,684.7 493,675.8 494,675.8 494,676.2 495,676.2 495,674.9 496,674.9 496,678.6 497,678.6 497,678.6 498,678.6 498,681.4 499,681.4 499,680.7 500,680.7 500,679.5 501,679.5 501,679.2 502,679.2 502,679.3 503,679.3 503,677.1 504,677.1 504,678.2 505,678.2 505,678.8 506,678.8 506,681.3 507,681.3 507,683.3 508,683.3 508,683.8 509,683.8 509,681.9 510,681.9 510,681.2 511,681.2 511,679.7 512,679.7 512,679.6 513,679.6 513,682.3 514,682.3 514,683.4 515,683.4 515,683.5 516,683.5 516,690.5 515,690.5 515,690.5 514,690.5 514,690.5 513,690.5 513,690.5 512,690.5 512,690.5 511,690.5 511,690.5 510,690.5 510,690.5 509,690.5 509,690.5 508,690.5 508,690.5 507,690.5 507,690.5 506,690.5 506,690.5 505,690.5 505,690.5 504,690.5 504,690.5 503,690.5 503,690.5 502,690.5 502,690.5 501,690.5 501,690.5 500,690.5 500,690.5 499,690.5 499,690.5 498,690.5 498,690.5 497,690.5 497,690.5 496,690.5 496,690.5 495,690.5 495,690.5 494,690.5 494,690.5 493,690.5 493,690.8 492,690.8 492,692.6 491,692.6 491,690.7 490,690.7 490,690.5 489,690.5 489,690.5 488,690.5 488,690.5 487,690.5 487,690.5 486,690.5 486,690.5 485,690.5 485,690.5 484,690.5 484,690.5 483,690.5 483,690.5 482,690.5 482,690.5 481,690.5 481,690.5 480,690.5 480,690.5 479,690.5 479,690.5 478,690.5 478,690.5 477,690.5 477,690.5 476,690.5 476,690.5 475,690.5 475,690.5 474,690.5 474,690.5 473,690.5 473,690.5 472,690.5 472,690.5 471,690.5 471,690.5 470,690.5 470,690.5 469,690.5 469,690.5 468,690.5 468,690.5 467,690.5 467,690.5 466,690.5 466,690.5 465,690.5 465,690.5 464,690.5 464,690.5 463,690.5 463,690.5 462,690.5 462,690.5 461,690.5 461,690.5 460,690.5 460,690.5 459,690.5 459,690.5 458,690.5 458,690.5 457,690.5 457,690.5 456,690.5 456,690.5 455,690.5 455,690.5 454,690.5 454,690.5 453,690.5 453,690.5 452,690.5 452,690.5 451,690.5 451,690.5 450,690.5 450,690.5 449,690.5 449,690.5 448,690.5 448,690.5 447,690.5 447,690.5 446,690.5 446,690.5 445,690.5 445,690.5 444,690.5 444,690.5 443,690.5 443,690.5 442,690.5 442,690.5 441,690.5 441,690.5 440,690.5 440,690.5 439,690.5 439,690.5 438,690.5 438,690.5 437,690.5 437,690.5 436,690.5 436,690.5 435,690.5 435,690.5 434,690.5 434,690.5 433,690.5 433,690.5 432,690.5 432,690.5 431,690.5 431,690.5 430,690.5 430,690.5 429,690.5 429,690.5 428,690.5 428,690.5 427,690.5 427,690.5 426,690.5 426,690.5 425,690.5 425,690.5 424,690.5 424,690.5 423,690.5 423,690.5 422,690.5 422,690.5 421,690.5 421,690.5 420,690.5 420,690.5 419,690.5 419,690.5 418,690.5 418,690.5 417,690.5 417,690.5 416,690.5 416,690.5 415,690.5 415,690.5 414,690.5 414,690.5 413,690.5 413,690.5 412,690.5 412,690.5 411,690.5 411,690.5 410,690.5 410,690.5 409,690.5 409,690.5 408,690.5 408,690.5 407,690.5 407,690.5 406,690.5 406,690.5 405,690.5 405,690.5 404,690.5 404,690.5 403,690.5 403,690.5 402,690.5 402,690.5 401,690.5 401,690.5 400,690.5 400,690.5 399,690.5 399,690.5 398,690.5 398,690.5 397,690.5 397,690.5 396,690.5 396,690.6 395,690.6 395,691.5 394,691.5 394,690.5 393,690.5 393,690.5 392,690.5 392,690.5 391,690.5 391,690.5 390,690.5 390,690.5 389,690.5 389,690.5 388,690.5 388,690.5 387,690.5 387,690.5 386,690.5 386,690.5 385,690.5 385,690.5 384,690.5 384,690.5 383,690.5 383,690.5 382,690.5 382,690.5 381,690.5 381,690.5 380,690.5 380,690.5 379,690.5 379,690.5 378,690.5 378,690.5 377,690.5 377,690.5 376,690.5 376,690.5 375,690.5 375,690.5 374,690.5 374,690.5 373,690.5 373,690.5 372,690.5 372,690.5 371,690.5 371,690.5 370,690.5 370,690.5 369,690.5 369,690.5 368,690.5 368,690.5 367,690.5 367,690.5 366,690.5 366,690.5 365,690.5 365,690.5 364,690.5 364,690.5 363,690.5 363,690.5 362,690.5 362,690.5 361,690.5 361,690.5 360,690.5 360,690.5 359,690.5 359,690.5 358,690.5 358,690.5 357,690.5 357,690.5 356,690.5 356,690.5 355,690.5 355,690.5 354,690.5 354,690.5 353,690.5 353,690.5 352,690.5 352,690.5 351,690.5 351,690.5 350,690.5 350,690.5 349,690.5 349,690.5 348,690.5 348,690.5 347,690.5 347,690.5 346,690.5 346,690.5 345,690.5 345,690.5 344,690.5 344,690.5 343,690.5 343,690.5 342,690.5 342,690.5 341,690.5 341,690.5 340,690.5 340,690.5 339,690.5 339,690.5 338,690.5 338,690.5 337,690.5 337,690.5 336,690.5 336,690.5 335,690.5 335,690.5 334,690.5 334,690.5 333,690.5 333,690.5 332,690.5 332,690.5 331,690.5 331,690.5 330,690.5 330,690.5 329,690.5 329,690.5 328,690.5 328,690.5 327,690.5 327,690.5 326,690.5 326,690.5 325,690.5 325,690.5 324,690.5 324,690.5 323,690.5 323,690.5 322,690.5 322,690.5 321,690.5 321,690.5 320,690.5 320,690.5 319,690.5 319,690.5 318,690.5 318,690.5 317,690.5 317,690.5 316,690.5 316,690.5 315,690.5 315,690.5 314,690.5 314,690.5 313,690.5 313,690.5 312,690.5 312,690.5 311,690.5 311,690.5 310,690.5 310,690.5 309,690.5 309,690.5 308,690.5 308,690.5 307,690.5 307,690.5 306,690.5 306,690.5 305,690.5 305,690.5 304,690.5 304,690.5 303,690.5 303,690.5 302,690.5 302,690.5 301,690.5 301,690.5 300,690.5 300,690.5 299,690.5 299,690.5 298,690.5 298,690.5 297,690.5 297,690.5 296,690.5 296,690.5 295,690.5 295,690.5 294,690.5 294,690.5 293,690.5 293,690.5 292,690.5 292,690.5 291,690.5 291,690.5 290,690.5 290,690.5 289,690.5 289,690.5 288,690.5 288,690.5 287,690.5 287,690.5 286,690.5 286,690.5 285,690.5 285,690.5 284,690.5 284,690.5 283,690.5 283,690.5 282,690.5 282,690.5 281,690.5 281,690.5 280,690.5 280,690.5 279,690.5 279,690.5 278,690.5 278,690.5 277,690.5 277,690.5 276,690.5 276,690.5 275,690.5 275,690.5 274,690.5 274,690.5 273,690.5 273,690.5 272,690.5 272,690.5 271,690.5 271,690.5 270,690.5 270,690.5 269,690.5 269,690.5 268,690.5 268,690.5 267,690.5 267,690.5 266,690.5 266,690.5 265,690.5 265,690.5 264,690.5 264,690.5 263,690.5 263,690.5 262,690.5 262,690.5 261,690.5 261,690.5 260,690.5 260,690.5 259,690.5 259,690.5 258,690.5 258,690.5 257,690.5 257,690.5 256,690.5 256,690.5 255,690.5Z" class="dt"/>
<rect x="254.5" y="644.5" width="262" height="59" class="bx"/>
<line x1="276.5" y1="703.5" x2="276.5" y2="709.5" class="tk"/>
<text x="276.7" y="726.4" class="xl" text-anchor="middle">2006</text>
<line x1="343.5" y1="703.5" x2="343.5" y2="709.5" class="tk"/>
<text x="343.7" y="726.4" class="xl" text-anchor="middle">2009</text>
<line x1="432.5" y1="703.5" x2="432.5" y2="709.5" class="tk"/>
<text x="432.7" y="726.4" class="xl" text-anchor="middle">2013</text>
<line x1="498.5" y1="703.5" x2="498.5" y2="709.5" class="tk"/>
<text x="498.7" y="726.4" class="xl" text-anchor="middle">2016</text>
<line x1="247.2" y1="645.5" x2="254.5" y2="645.5" class="tk"/>
<text transform="translate(239.2,645.5) rotate(-90) scale(0.86,1)" x="0" y="0" class="yl" text-anchor="middle">0.003</text>
<line x1="247.2" y1="675.5" x2="254.5" y2="675.5" class="tk"/>
<text transform="translate(239.2,675.5) rotate(-90) scale(0.86,1)" x="0" y="0" class="yl" text-anchor="middle">0.001</text>
<text x="33.3" y="772.8" style="font-family:'Liberation Serif',serif;font-size:12.78px;fill:#1a1a1a;">Pairwise spillover indexes are the difference between the volatility transmitted from one market to another and the volatility received</text>
<text x="33.3" y="789.2" textLength="679.2" lengthAdjust="spacing" style="font-family:'Liberation Serif',serif;font-size:12.78px;fill:#1a1a1a;">by that one market from the other. Hence when the index is positive the first market transmits more volatility to the second, whereas</text>
<text x="33.3" y="804.9" textLength="357.0" lengthAdjust="spacing" style="font-family:'Liberation Serif',serif;font-size:12.78px;fill:#1a1a1a;">it is negative, the second markets send more volatility to the first one</text>
</svg>
</body></html>
